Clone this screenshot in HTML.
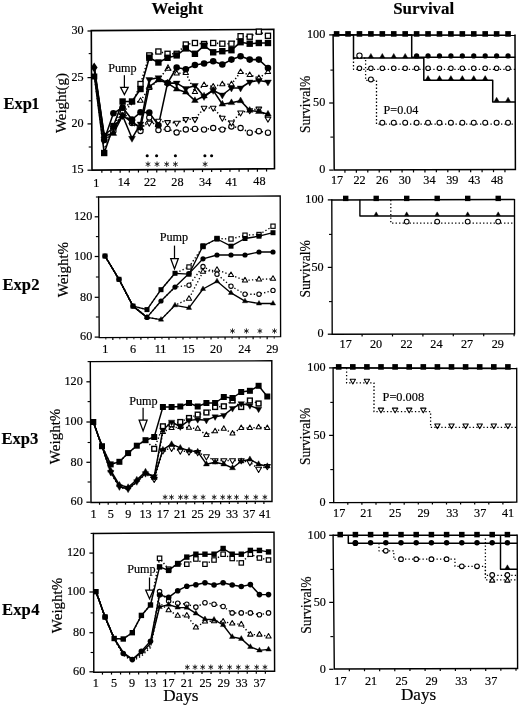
<!DOCTYPE html>
<html><head><meta charset="utf-8"><title>Figure</title>
<style>
html,body{margin:0;padding:0;background:#fff;}
body{width:520px;height:706px;overflow:hidden;font-family:"Liberation Serif", serif;}
svg{display:block;will-change:transform;}
</style></head><body>
<svg width="520" height="706" viewBox="0 0 520 706" stroke="#000" fill="#000" font-family='"Liberation Serif", serif'>
<rect x="0" y="0" width="520" height="706" fill="#fff" stroke="none"/>
<text x="177.3" y="13.9" font-size="16.9" text-anchor="middle" font-weight="bold" stroke="#000" stroke-width="0.15">Weight</text>
<text x="423.7" y="13.6" font-size="16.9" text-anchor="middle" font-weight="bold" stroke="#000" stroke-width="0.15">Survival</text>
<text x="3.4" y="108.7" font-size="16.6" font-weight="bold" stroke="#000" stroke-width="0.15">Exp</text>
<text x="39.6" y="108.7" font-size="16.6" text-anchor="end" font-weight="bold" stroke="#000" stroke-width="0.15">1</text>
<text x="2.4" y="289.7" font-size="16.6" font-weight="bold" stroke="#000" stroke-width="0.15">Exp</text>
<text x="39.6" y="289.7" font-size="16.6" text-anchor="end" font-weight="bold" stroke="#000" stroke-width="0.15">2</text>
<text x="1.4" y="444.2" font-size="16.6" font-weight="bold" stroke="#000" stroke-width="0.15">Exp</text>
<text x="38.3" y="444.2" font-size="16.6" text-anchor="end" font-weight="bold" stroke="#000" stroke-width="0.15">3</text>
<text x="2.1" y="614.7" font-size="16.6" font-weight="bold" stroke="#000" stroke-width="0.15">Exp</text>
<text x="39.6" y="614.7" font-size="16.6" text-anchor="end" font-weight="bold" stroke="#000" stroke-width="0.15">4</text>
<path d="M91.3 30.6 L92 170.1 L274.5 168.7 L273.8 29.4 Z" fill="none" stroke-width="1.6" stroke-linejoin="miter" stroke-linecap="square"/>
<line x1="87.5" y1="31" x2="91.7" y2="31" stroke-width="1.25"/>
<text x="83.6" y="34.25" font-size="12.2" text-anchor="end" stroke="#000" stroke-width="0.18">30</text>
<line x1="87.5" y1="77.6" x2="91.7" y2="77.6" stroke-width="1.25"/>
<text x="83.6" y="80.85" font-size="12.2" text-anchor="end" stroke="#000" stroke-width="0.18">25</text>
<line x1="87.5" y1="123.9" x2="91.7" y2="123.9" stroke-width="1.25"/>
<text x="83.6" y="127.15" font-size="12.2" text-anchor="end" stroke="#000" stroke-width="0.18">20</text>
<line x1="87.5" y1="170.2" x2="91.7" y2="170.2" stroke-width="1.25"/>
<text x="83.6" y="173.45" font-size="12.2" text-anchor="end" stroke="#000" stroke-width="0.18">15</text>
<line x1="88.7" y1="53.6" x2="91.7" y2="53.6" stroke-width="1.12"/>
<line x1="88.7" y1="100.8" x2="91.7" y2="100.8" stroke-width="1.12"/>
<line x1="88.7" y1="147" x2="91.7" y2="147" stroke-width="1.12"/>
<line x1="101.85" y1="170.02" x2="101.85" y2="172.82" stroke-width="1.2"/>
<line x1="111" y1="169.95" x2="111" y2="172.75" stroke-width="1.2"/>
<line x1="120.15" y1="169.88" x2="120.15" y2="172.68" stroke-width="1.2"/>
<line x1="129.3" y1="169.81" x2="129.3" y2="172.61" stroke-width="1.2"/>
<line x1="138.45" y1="169.74" x2="138.45" y2="172.54" stroke-width="1.2"/>
<line x1="147.6" y1="169.67" x2="147.6" y2="172.47" stroke-width="1.2"/>
<line x1="156.75" y1="169.6" x2="156.75" y2="172.4" stroke-width="1.2"/>
<line x1="165.9" y1="169.53" x2="165.9" y2="172.33" stroke-width="1.2"/>
<line x1="175.05" y1="169.46" x2="175.05" y2="172.26" stroke-width="1.2"/>
<line x1="184.2" y1="169.39" x2="184.2" y2="172.19" stroke-width="1.2"/>
<line x1="193.35" y1="169.32" x2="193.35" y2="172.12" stroke-width="1.2"/>
<line x1="202.5" y1="169.25" x2="202.5" y2="172.05" stroke-width="1.2"/>
<line x1="211.65" y1="169.18" x2="211.65" y2="171.98" stroke-width="1.2"/>
<line x1="220.8" y1="169.11" x2="220.8" y2="171.91" stroke-width="1.2"/>
<line x1="229.95" y1="169.04" x2="229.95" y2="171.84" stroke-width="1.2"/>
<line x1="239.1" y1="168.97" x2="239.1" y2="171.77" stroke-width="1.2"/>
<line x1="248.25" y1="168.9" x2="248.25" y2="171.7" stroke-width="1.2"/>
<line x1="257.4" y1="168.83" x2="257.4" y2="171.63" stroke-width="1.2"/>
<line x1="266.55" y1="168.76" x2="266.55" y2="171.56" stroke-width="1.2"/>
<text x="96.2" y="186.55" font-size="12.2" text-anchor="middle" stroke="#000" stroke-width="0.18">1</text>
<text x="123.8" y="186.36" font-size="12.2" text-anchor="middle" stroke="#000" stroke-width="0.18">14</text>
<text x="150" y="186.19" font-size="12.2" text-anchor="middle" stroke="#000" stroke-width="0.18">22</text>
<text x="177.4" y="186" font-size="12.2" text-anchor="middle" stroke="#000" stroke-width="0.18">28</text>
<text x="205.2" y="185.82" font-size="12.2" text-anchor="middle" stroke="#000" stroke-width="0.18">34</text>
<text x="231.6" y="185.64" font-size="12.2" text-anchor="middle" stroke="#000" stroke-width="0.18">41</text>
<text x="259.4" y="185.45" font-size="12.2" text-anchor="middle" stroke="#000" stroke-width="0.18">48</text>
<text x="66.2" y="103" font-size="14.9" text-anchor="middle" transform="rotate(-90 66.2 103)" stroke="#000" stroke-width="0.18">Weight(g)</text>
<text x="108.2" y="71.6" font-size="12.2" stroke="#000" stroke-width="0.18">Pump</text>
<line x1="124.4" y1="75.2" x2="124.4" y2="87.3" stroke-width="1.25"/>
<polygon fill="#fff" stroke-width="1.25" stroke-linejoin="miter" points="120.6,87.3 128.2,87.3 124.4,94.6"/>
<circle cx="147.2" cy="155.8" r="1.55" stroke="none"/>
<circle cx="156.6" cy="155.8" r="1.55" stroke="none"/>
<circle cx="175.4" cy="155.8" r="1.55" stroke="none"/>
<circle cx="204.9" cy="155.8" r="1.55" stroke="none"/>
<circle cx="211.6" cy="155.8" r="1.55" stroke="none"/>
<path d="M148 164.2L148 161.9M148 164.2L146.01 163.05M148 164.2L146.01 165.35M148 164.2L148 166.5M148 164.2L149.99 165.35M148 164.2L149.99 163.05" stroke="#222" stroke-width="0.95" fill="none" stroke-linecap="round"/>
<path d="M157 164.2L157 161.9M157 164.2L155.01 163.05M157 164.2L155.01 165.35M157 164.2L157 166.5M157 164.2L158.99 165.35M157 164.2L158.99 163.05" stroke="#222" stroke-width="0.95" fill="none" stroke-linecap="round"/>
<path d="M166.7 164.2L166.7 161.9M166.7 164.2L164.71 163.05M166.7 164.2L164.71 165.35M166.7 164.2L166.7 166.5M166.7 164.2L168.69 165.35M166.7 164.2L168.69 163.05" stroke="#222" stroke-width="0.95" fill="none" stroke-linecap="round"/>
<path d="M175.4 164.2L175.4 161.9M175.4 164.2L173.41 163.05M175.4 164.2L173.41 165.35M175.4 164.2L175.4 166.5M175.4 164.2L177.39 165.35M175.4 164.2L177.39 163.05" stroke="#222" stroke-width="0.95" fill="none" stroke-linecap="round"/>
<path d="M205.1 164.2L205.1 161.9M205.1 164.2L203.11 163.05M205.1 164.2L203.11 165.35M205.1 164.2L205.1 166.5M205.1 164.2L207.09 165.35M205.1 164.2L207.09 163.05" stroke="#222" stroke-width="0.95" fill="none" stroke-linecap="round"/>
<polyline fill="none" stroke-linejoin="round" stroke-width="1.55" stroke-dasharray="1.3,2.2" points="94.5,75 104.2,142 113.4,131 122.6,113 132,123 140.5,131 149.28,117.5 158.41,130.1 167.54,128.9 176.67,132.5 185.8,129.5 194.93,128.9 204.06,129.6 213.19,128 222.32,129.6 231.45,126.5 240.58,128 249.71,132.7 258.84,131.2 267.97,132.7"/>
<polyline fill="none" stroke-linejoin="round" stroke-width="1.55" stroke-dasharray="1.3,2.2" points="94.5,74 104.2,140 113.4,130 122.6,112 132,122 140.5,127 149.28,122.9 158.41,121 167.54,122.3 176.67,122.9 185.8,119.3 194.93,119.3 204.06,108 213.19,108 222.32,118 231.45,122.7 240.58,112.7 249.71,110.4 258.84,108.8 267.97,118.8"/>
<polyline fill="none" stroke-linejoin="round" stroke-width="1.55" stroke-dasharray="1.3,2.2" points="94.5,70 104.2,138 113.4,130 122.6,112 132,104 140.5,100.8 149.28,88 158.41,80 167.54,68 176.67,73.5 185.8,72.9 194.93,92 204.06,85 213.19,86.5 222.32,84.2 231.45,84.2 240.58,72 249.71,75 258.84,78 267.97,72"/>
<polyline fill="none" stroke-linejoin="round" stroke-width="1.55" stroke-dasharray="1.3,2.2" points="94.5,77 104.2,150 113.4,128 122.6,106 132,104 140.5,84 149.28,55.4 158.41,51.5 167.54,53.8 176.67,53.8 185.8,44.5 194.93,43 204.06,44 213.19,43 222.32,43.7 231.45,43.7 240.58,36.2 249.71,36.7 258.84,31.7 267.97,35.8"/>
<polyline fill="none" stroke-linejoin="round" stroke-width="1.55" points="94.5,68 104.2,136 113.4,133.5 122.6,115.7 132,122 140.5,128 149.28,86.7 158.41,80 167.54,83.1 176.67,89.2 185.8,92.2 194.93,100.6 204.06,96 213.19,90.4 222.32,104.2 231.45,102.7 240.58,100.8 249.71,110.4 258.84,111.6 267.97,114.2"/>
<polyline fill="none" stroke-linejoin="round" stroke-width="1.55" points="94.5,70 104.2,135 113.4,128 122.6,115.7 132,138.3 140.5,124 149.28,79.5 158.41,77.7 167.54,83.1 176.67,83.1 185.8,88.6 194.93,85.5 204.06,96.5 213.19,90.4 222.32,95 231.45,88 240.58,88 249.71,82 258.84,80.4 267.97,82"/>
<polyline fill="none" stroke-linejoin="round" stroke-width="1.55" points="94.5,72 104.2,140 113.4,113.3 122.6,107.5 132,119.5 140.5,112.3 149.28,112.6 158.41,125.3 167.54,83.1 176.67,67.5 185.8,69.3 194.93,65 204.06,63.5 213.19,61.2 222.32,64.5 231.45,59.6 240.58,56.2 249.71,59.6 258.84,59.6 267.97,68"/>
<polyline fill="none" stroke-linejoin="round" stroke-width="1.55" points="94.5,77 104.2,153 113.4,126 122.6,101.5 132,101.5 140.5,89 149.28,57.7 158.41,62.5 167.54,57.8 176.67,55.4 185.8,48.4 194.93,53.8 204.06,45.7 213.19,52.3 222.32,51.2 231.45,50.2 240.58,42.2 249.71,43.7 258.84,43 267.97,43"/>
<circle cx="113.4" cy="131" r="2.65" fill="#fff" stroke-width="1.1"/>
<circle cx="122.6" cy="113" r="2.65" fill="#fff" stroke-width="1.1"/>
<circle cx="132" cy="123" r="2.65" fill="#fff" stroke-width="1.1"/>
<circle cx="140.5" cy="131" r="2.65" fill="#fff" stroke-width="1.1"/>
<circle cx="149.28" cy="117.5" r="2.65" fill="#fff" stroke-width="1.1"/>
<circle cx="158.41" cy="130.1" r="2.65" fill="#fff" stroke-width="1.1"/>
<circle cx="167.54" cy="128.9" r="2.65" fill="#fff" stroke-width="1.1"/>
<circle cx="176.67" cy="132.5" r="2.65" fill="#fff" stroke-width="1.1"/>
<circle cx="185.8" cy="129.5" r="2.65" fill="#fff" stroke-width="1.1"/>
<circle cx="194.93" cy="128.9" r="2.65" fill="#fff" stroke-width="1.1"/>
<circle cx="204.06" cy="129.6" r="2.65" fill="#fff" stroke-width="1.1"/>
<circle cx="213.19" cy="128" r="2.65" fill="#fff" stroke-width="1.1"/>
<circle cx="222.32" cy="129.6" r="2.65" fill="#fff" stroke-width="1.1"/>
<circle cx="231.45" cy="126.5" r="2.65" fill="#fff" stroke-width="1.1"/>
<circle cx="240.58" cy="128" r="2.65" fill="#fff" stroke-width="1.1"/>
<circle cx="249.71" cy="132.7" r="2.65" fill="#fff" stroke-width="1.1"/>
<circle cx="258.84" cy="131.2" r="2.65" fill="#fff" stroke-width="1.1"/>
<circle cx="267.97" cy="132.7" r="2.65" fill="#fff" stroke-width="1.1"/>
<polygon fill="#fff" stroke-width="1.05" stroke-linejoin="round" points="113.4,133.32 116.26,128.34 110.54,128.34"/>
<polygon fill="#fff" stroke-width="1.05" stroke-linejoin="round" points="122.6,115.32 125.46,110.34 119.74,110.34"/>
<polygon fill="#fff" stroke-width="1.05" stroke-linejoin="round" points="132,125.32 134.86,120.34 129.14,120.34"/>
<polygon fill="#fff" stroke-width="1.05" stroke-linejoin="round" points="140.5,130.32 143.36,125.34 137.64,125.34"/>
<polygon fill="#fff" stroke-width="1.05" stroke-linejoin="round" points="149.28,126.22 152.14,121.24 146.42,121.24"/>
<polygon fill="#fff" stroke-width="1.05" stroke-linejoin="round" points="158.41,124.32 161.27,119.34 155.55,119.34"/>
<polygon fill="#fff" stroke-width="1.05" stroke-linejoin="round" points="167.54,125.62 170.4,120.64 164.68,120.64"/>
<polygon fill="#fff" stroke-width="1.05" stroke-linejoin="round" points="176.67,126.22 179.53,121.24 173.81,121.24"/>
<polygon fill="#fff" stroke-width="1.05" stroke-linejoin="round" points="185.8,122.62 188.66,117.64 182.94,117.64"/>
<polygon fill="#fff" stroke-width="1.05" stroke-linejoin="round" points="194.93,122.62 197.79,117.64 192.07,117.64"/>
<polygon fill="#fff" stroke-width="1.05" stroke-linejoin="round" points="204.06,111.32 206.92,106.34 201.2,106.34"/>
<polygon fill="#fff" stroke-width="1.05" stroke-linejoin="round" points="213.19,111.32 216.05,106.34 210.33,106.34"/>
<polygon fill="#fff" stroke-width="1.05" stroke-linejoin="round" points="222.32,121.32 225.18,116.34 219.46,116.34"/>
<polygon fill="#fff" stroke-width="1.05" stroke-linejoin="round" points="231.45,126.02 234.31,121.04 228.59,121.04"/>
<polygon fill="#fff" stroke-width="1.05" stroke-linejoin="round" points="240.58,116.02 243.44,111.04 237.72,111.04"/>
<polygon fill="#fff" stroke-width="1.05" stroke-linejoin="round" points="249.71,113.72 252.57,108.74 246.85,108.74"/>
<polygon fill="#fff" stroke-width="1.05" stroke-linejoin="round" points="258.84,112.12 261.7,107.14 255.98,107.14"/>
<polygon fill="#fff" stroke-width="1.05" stroke-linejoin="round" points="267.97,122.12 270.83,117.14 265.11,117.14"/>
<polygon fill="#fff" stroke-width="1.05" stroke-linejoin="round" points="140.5,97.74 143.14,102.33 137.86,102.33"/>
<polygon fill="#fff" stroke-width="1.05" stroke-linejoin="round" points="149.28,84.94 151.92,89.53 146.64,89.53"/>
<polygon fill="#fff" stroke-width="1.05" stroke-linejoin="round" points="158.41,76.94 161.05,81.53 155.77,81.53"/>
<polygon fill="#fff" stroke-width="1.05" stroke-linejoin="round" points="176.67,70.44 179.31,75.03 174.03,75.03"/>
<polygon fill="#fff" stroke-width="1.05" stroke-linejoin="round" points="185.8,69.84 188.44,74.43 183.16,74.43"/>
<polygon fill="#fff" stroke-width="1.05" stroke-linejoin="round" points="194.93,88.94 197.57,93.53 192.29,93.53"/>
<polygon fill="#fff" stroke-width="1.05" stroke-linejoin="round" points="204.06,81.94 206.7,86.53 201.42,86.53"/>
<polygon fill="#fff" stroke-width="1.05" stroke-linejoin="round" points="213.19,83.44 215.83,88.03 210.55,88.03"/>
<polygon fill="#fff" stroke-width="1.05" stroke-linejoin="round" points="222.32,81.14 224.96,85.73 219.68,85.73"/>
<polygon fill="#fff" stroke-width="1.05" stroke-linejoin="round" points="231.45,81.14 234.09,85.73 228.81,85.73"/>
<polygon fill="#fff" stroke-width="1.05" stroke-linejoin="round" points="240.58,68.94 243.22,73.53 237.94,73.53"/>
<polygon fill="#fff" stroke-width="1.05" stroke-linejoin="round" points="249.71,71.94 252.35,76.53 247.07,76.53"/>
<polygon fill="#fff" stroke-width="1.05" stroke-linejoin="round" points="258.84,74.94 261.48,79.53 256.2,79.53"/>
<polygon fill="#fff" stroke-width="1.05" stroke-linejoin="round" points="267.97,68.94 270.61,73.53 265.33,73.53"/>
<rect x="137.95" y="81.45" width="5.1" height="5.1" fill="#fff" stroke-width="1.3"/>
<rect x="146.73" y="52.85" width="5.1" height="5.1" fill="#fff" stroke-width="1.3"/>
<rect x="155.86" y="48.95" width="5.1" height="5.1" fill="#fff" stroke-width="1.3"/>
<rect x="164.99" y="51.25" width="5.1" height="5.1" fill="#fff" stroke-width="1.3"/>
<rect x="174.12" y="51.25" width="5.1" height="5.1" fill="#fff" stroke-width="1.3"/>
<rect x="183.25" y="41.95" width="5.1" height="5.1" fill="#fff" stroke-width="1.3"/>
<rect x="192.38" y="40.45" width="5.1" height="5.1" fill="#fff" stroke-width="1.3"/>
<rect x="201.51" y="41.45" width="5.1" height="5.1" fill="#fff" stroke-width="1.3"/>
<rect x="210.64" y="40.45" width="5.1" height="5.1" fill="#fff" stroke-width="1.3"/>
<rect x="219.77" y="41.15" width="5.1" height="5.1" fill="#fff" stroke-width="1.3"/>
<rect x="228.9" y="41.15" width="5.1" height="5.1" fill="#fff" stroke-width="1.3"/>
<rect x="238.03" y="33.65" width="5.1" height="5.1" fill="#fff" stroke-width="1.3"/>
<rect x="247.16" y="34.15" width="5.1" height="5.1" fill="#fff" stroke-width="1.3"/>
<rect x="256.29" y="29.15" width="5.1" height="5.1" fill="#fff" stroke-width="1.3"/>
<rect x="265.42" y="33.25" width="5.1" height="5.1" fill="#fff" stroke-width="1.3"/>
<path d="M165.2,70.2 L168,65 L170.8,70.2 Z M166,69 L169.5,66.5" fill="none" stroke-width="1.1"/>
<polygon fill="#000" stroke="#000" stroke-width="0.4" stroke-linejoin="round" points="104.2,132.17 107.5,137.91 100.9,137.91"/>
<polygon fill="#000" stroke="#000" stroke-width="0.4" stroke-linejoin="round" points="113.4,129.67 116.7,135.41 110.1,135.41"/>
<polygon fill="#000" stroke="#000" stroke-width="0.4" stroke-linejoin="round" points="122.6,111.87 125.9,117.61 119.3,117.61"/>
<polygon fill="#000" stroke="#000" stroke-width="0.4" stroke-linejoin="round" points="132,118.17 135.3,123.91 128.7,123.91"/>
<polygon fill="#000" stroke="#000" stroke-width="0.4" stroke-linejoin="round" points="140.5,124.17 143.8,129.91 137.2,129.91"/>
<polygon fill="#000" stroke="#000" stroke-width="0.4" stroke-linejoin="round" points="149.28,82.87 152.58,88.61 145.98,88.61"/>
<polygon fill="#000" stroke="#000" stroke-width="0.4" stroke-linejoin="round" points="158.41,76.17 161.71,81.91 155.11,81.91"/>
<polygon fill="#000" stroke="#000" stroke-width="0.4" stroke-linejoin="round" points="167.54,79.27 170.84,85.01 164.24,85.01"/>
<polygon fill="#000" stroke="#000" stroke-width="0.4" stroke-linejoin="round" points="176.67,85.37 179.97,91.11 173.37,91.11"/>
<polygon fill="#000" stroke="#000" stroke-width="0.4" stroke-linejoin="round" points="185.8,88.37 189.1,94.11 182.5,94.11"/>
<polygon fill="#000" stroke="#000" stroke-width="0.4" stroke-linejoin="round" points="194.93,96.77 198.23,102.51 191.63,102.51"/>
<polygon fill="#000" stroke="#000" stroke-width="0.4" stroke-linejoin="round" points="204.06,92.17 207.36,97.91 200.76,97.91"/>
<polygon fill="#000" stroke="#000" stroke-width="0.4" stroke-linejoin="round" points="213.19,86.57 216.49,92.31 209.89,92.31"/>
<polygon fill="#000" stroke="#000" stroke-width="0.4" stroke-linejoin="round" points="222.32,100.37 225.62,106.11 219.02,106.11"/>
<polygon fill="#000" stroke="#000" stroke-width="0.4" stroke-linejoin="round" points="231.45,98.87 234.75,104.61 228.15,104.61"/>
<polygon fill="#000" stroke="#000" stroke-width="0.4" stroke-linejoin="round" points="240.58,96.97 243.88,102.71 237.28,102.71"/>
<polygon fill="#000" stroke="#000" stroke-width="0.4" stroke-linejoin="round" points="249.71,106.57 253.01,112.31 246.41,112.31"/>
<polygon fill="#000" stroke="#000" stroke-width="0.4" stroke-linejoin="round" points="258.84,107.77 262.14,113.51 255.54,113.51"/>
<polygon fill="#000" stroke="#000" stroke-width="0.4" stroke-linejoin="round" points="267.97,110.37 271.27,116.11 264.67,116.11"/>
<polygon fill="#000" stroke="#000" stroke-width="0.4" stroke-linejoin="round" points="104.2,138.96 107.61,133.02 100.79,133.02"/>
<polygon fill="#000" stroke="#000" stroke-width="0.4" stroke-linejoin="round" points="113.4,131.96 116.81,126.02 109.99,126.02"/>
<polygon fill="#000" stroke="#000" stroke-width="0.4" stroke-linejoin="round" points="122.6,119.66 126.01,113.72 119.19,113.72"/>
<polygon fill="#000" stroke="#000" stroke-width="0.4" stroke-linejoin="round" points="132,142.26 135.41,136.32 128.59,136.32"/>
<polygon fill="#000" stroke="#000" stroke-width="0.4" stroke-linejoin="round" points="140.5,127.96 143.91,122.02 137.09,122.02"/>
<polygon fill="#000" stroke="#000" stroke-width="0.4" stroke-linejoin="round" points="149.28,83.46 152.69,77.52 145.87,77.52"/>
<polygon fill="#000" stroke="#000" stroke-width="0.4" stroke-linejoin="round" points="158.41,81.66 161.82,75.72 155,75.72"/>
<polygon fill="#000" stroke="#000" stroke-width="0.4" stroke-linejoin="round" points="167.54,87.06 170.95,81.12 164.13,81.12"/>
<polygon fill="#000" stroke="#000" stroke-width="0.4" stroke-linejoin="round" points="176.67,87.06 180.08,81.12 173.26,81.12"/>
<polygon fill="#000" stroke="#000" stroke-width="0.4" stroke-linejoin="round" points="185.8,92.56 189.21,86.62 182.39,86.62"/>
<polygon fill="#000" stroke="#000" stroke-width="0.4" stroke-linejoin="round" points="194.93,89.46 198.34,83.52 191.52,83.52"/>
<polygon fill="#000" stroke="#000" stroke-width="0.4" stroke-linejoin="round" points="204.06,100.46 207.47,94.52 200.65,94.52"/>
<polygon fill="#000" stroke="#000" stroke-width="0.4" stroke-linejoin="round" points="213.19,94.36 216.6,88.42 209.78,88.42"/>
<polygon fill="#000" stroke="#000" stroke-width="0.4" stroke-linejoin="round" points="222.32,98.96 225.73,93.02 218.91,93.02"/>
<polygon fill="#000" stroke="#000" stroke-width="0.4" stroke-linejoin="round" points="231.45,91.96 234.86,86.02 228.04,86.02"/>
<polygon fill="#000" stroke="#000" stroke-width="0.4" stroke-linejoin="round" points="240.58,91.96 243.99,86.02 237.17,86.02"/>
<polygon fill="#000" stroke="#000" stroke-width="0.4" stroke-linejoin="round" points="249.71,85.96 253.12,80.02 246.3,80.02"/>
<polygon fill="#000" stroke="#000" stroke-width="0.4" stroke-linejoin="round" points="258.84,84.36 262.25,78.42 255.43,78.42"/>
<polygon fill="#000" stroke="#000" stroke-width="0.4" stroke-linejoin="round" points="267.97,85.96 271.38,80.02 264.56,80.02"/>
<circle cx="104.2" cy="140" r="3.3" fill="#000" stroke="none"/>
<circle cx="113.4" cy="113.3" r="3.3" fill="#000" stroke="none"/>
<circle cx="122.6" cy="107.5" r="3.3" fill="#000" stroke="none"/>
<circle cx="132" cy="119.5" r="3.3" fill="#000" stroke="none"/>
<circle cx="140.5" cy="112.3" r="3.3" fill="#000" stroke="none"/>
<circle cx="149.28" cy="112.6" r="3.3" fill="#000" stroke="none"/>
<circle cx="158.41" cy="125.3" r="3.3" fill="#000" stroke="none"/>
<circle cx="167.54" cy="83.1" r="3.3" fill="#000" stroke="none"/>
<circle cx="176.67" cy="67.5" r="3.3" fill="#000" stroke="none"/>
<circle cx="185.8" cy="69.3" r="3.3" fill="#000" stroke="none"/>
<circle cx="194.93" cy="65" r="3.3" fill="#000" stroke="none"/>
<circle cx="204.06" cy="63.5" r="3.3" fill="#000" stroke="none"/>
<circle cx="213.19" cy="61.2" r="3.3" fill="#000" stroke="none"/>
<circle cx="222.32" cy="64.5" r="3.3" fill="#000" stroke="none"/>
<circle cx="231.45" cy="59.6" r="3.3" fill="#000" stroke="none"/>
<circle cx="240.58" cy="56.2" r="3.3" fill="#000" stroke="none"/>
<circle cx="249.71" cy="59.6" r="3.3" fill="#000" stroke="none"/>
<circle cx="258.84" cy="59.6" r="3.3" fill="#000" stroke="none"/>
<circle cx="267.97" cy="68" r="3.3" fill="#000" stroke="none"/>
<rect x="101" y="149.8" width="6.4" height="6.4" fill="#000" stroke="none"/>
<rect x="110.2" y="122.8" width="6.4" height="6.4" fill="#000" stroke="none"/>
<rect x="119.4" y="98.3" width="6.4" height="6.4" fill="#000" stroke="none"/>
<rect x="128.8" y="98.3" width="6.4" height="6.4" fill="#000" stroke="none"/>
<rect x="137.3" y="85.8" width="6.4" height="6.4" fill="#000" stroke="none"/>
<rect x="146.08" y="54.5" width="6.4" height="6.4" fill="#000" stroke="none"/>
<rect x="155.21" y="59.3" width="6.4" height="6.4" fill="#000" stroke="none"/>
<rect x="164.34" y="54.6" width="6.4" height="6.4" fill="#000" stroke="none"/>
<rect x="173.47" y="52.2" width="6.4" height="6.4" fill="#000" stroke="none"/>
<rect x="182.6" y="45.2" width="6.4" height="6.4" fill="#000" stroke="none"/>
<rect x="191.73" y="50.6" width="6.4" height="6.4" fill="#000" stroke="none"/>
<rect x="200.86" y="42.5" width="6.4" height="6.4" fill="#000" stroke="none"/>
<rect x="209.99" y="49.1" width="6.4" height="6.4" fill="#000" stroke="none"/>
<rect x="219.12" y="48" width="6.4" height="6.4" fill="#000" stroke="none"/>
<rect x="228.25" y="47" width="6.4" height="6.4" fill="#000" stroke="none"/>
<rect x="237.38" y="39" width="6.4" height="6.4" fill="#000" stroke="none"/>
<rect x="246.51" y="40.5" width="6.4" height="6.4" fill="#000" stroke="none"/>
<rect x="255.64" y="39.8" width="6.4" height="6.4" fill="#000" stroke="none"/>
<rect x="264.77" y="39.8" width="6.4" height="6.4" fill="#000" stroke="none"/>
<polygon points="94.2,62.5 97.6,67.5 94.2,72.5 90.8,67.5" stroke="none"/>
<rect x="91.3" y="73.5" width="6" height="6" fill="#000" stroke="none"/>
<g fill="none">
<path d="M333.1 34.9 L334.2 170.1 L515.4 169.5 L515 35.3" fill="none" stroke-width="1.5" stroke-linejoin="miter" stroke-linecap="square"/>
</g>
<line x1="329.2" y1="34.9" x2="333.4" y2="34.9" stroke-width="1.25"/>
<text x="325.3" y="38.15" font-size="12.2" text-anchor="end" stroke="#000" stroke-width="0.18">100</text>
<line x1="329.2" y1="103" x2="333.4" y2="103" stroke-width="1.25"/>
<text x="325.3" y="106.25" font-size="12.2" text-anchor="end" stroke="#000" stroke-width="0.18">50</text>
<line x1="329.2" y1="170.1" x2="333.4" y2="170.1" stroke-width="1.25"/>
<text x="325.3" y="173.35" font-size="12.2" text-anchor="end" stroke="#000" stroke-width="0.18">0</text>
<line x1="330.4" y1="70.1" x2="333.4" y2="70.1" stroke-width="1.12"/>
<line x1="330.4" y1="137.1" x2="333.4" y2="137.1" stroke-width="1.12"/>
<line x1="344.93" y1="170.06" x2="344.93" y2="172.66" stroke-width="1.2"/>
<line x1="356.36" y1="170.03" x2="356.36" y2="172.63" stroke-width="1.2"/>
<line x1="367.79" y1="169.99" x2="367.79" y2="172.59" stroke-width="1.2"/>
<line x1="379.22" y1="169.95" x2="379.22" y2="172.55" stroke-width="1.2"/>
<line x1="390.65" y1="169.91" x2="390.65" y2="172.51" stroke-width="1.2"/>
<line x1="402.08" y1="169.88" x2="402.08" y2="172.48" stroke-width="1.2"/>
<line x1="413.51" y1="169.84" x2="413.51" y2="172.44" stroke-width="1.2"/>
<line x1="424.94" y1="169.8" x2="424.94" y2="172.4" stroke-width="1.2"/>
<line x1="436.37" y1="169.76" x2="436.37" y2="172.36" stroke-width="1.2"/>
<line x1="447.8" y1="169.72" x2="447.8" y2="172.32" stroke-width="1.2"/>
<line x1="459.23" y1="169.69" x2="459.23" y2="172.29" stroke-width="1.2"/>
<line x1="470.66" y1="169.65" x2="470.66" y2="172.25" stroke-width="1.2"/>
<line x1="482.09" y1="169.61" x2="482.09" y2="172.21" stroke-width="1.2"/>
<line x1="493.52" y1="169.57" x2="493.52" y2="172.17" stroke-width="1.2"/>
<line x1="504.95" y1="169.53" x2="504.95" y2="172.13" stroke-width="1.2"/>
<text x="337" y="184.35" font-size="12.2" text-anchor="middle" stroke="#000" stroke-width="0.18">17</text>
<text x="359.6" y="184.35" font-size="12.2" text-anchor="middle" stroke="#000" stroke-width="0.18">22</text>
<text x="382.2" y="184.35" font-size="12.2" text-anchor="middle" stroke="#000" stroke-width="0.18">26</text>
<text x="404.8" y="184.35" font-size="12.2" text-anchor="middle" stroke="#000" stroke-width="0.18">30</text>
<text x="429.4" y="184.35" font-size="12.2" text-anchor="middle" stroke="#000" stroke-width="0.18">34</text>
<text x="452.3" y="184.35" font-size="12.2" text-anchor="middle" stroke="#000" stroke-width="0.18">39</text>
<text x="474.3" y="184.35" font-size="12.2" text-anchor="middle" stroke="#000" stroke-width="0.18">43</text>
<text x="497" y="184.35" font-size="12.2" text-anchor="middle" stroke="#000" stroke-width="0.18">48</text>
<text x="310.4" y="104.3" font-size="13.6" text-anchor="middle" transform="rotate(-90 310.4 104.3)" stroke="#000" stroke-width="0.18">Survival%</text>
<text x="383.6" y="114.4" font-size="12.1" stroke="#000" stroke-width="0.18">P=0.04</text>
<g fill="none">
<polyline fill="none" stroke-linejoin="round" stroke-width="1.3" stroke-dasharray="1.3,2.2" points="353.5,58.1 365.6,58.1 365.6,80.3 376.5,80.3 376.5,124.1 515.2,124.1"/>
<polyline fill="none" stroke-linejoin="round" stroke-width="1.3" stroke-dasharray="1.3,2.2" points="353.5,58.1 353.5,69.3 515.2,69.3"/>
<polyline fill="none" stroke-linejoin="round" stroke-width="1.5" points="333.2,35 353.5,35 353.5,58.1 423.8,58.1 423.8,80.3 492.7,80.3 492.7,101.9 515.2,101.9"/>
<polyline fill="none" stroke-linejoin="round" stroke-width="1.5" points="405,35 411.7,35 411.7,57.3 515.2,57.3"/>
<polyline fill="none" stroke-linejoin="round" stroke-width="1.6" points="333.2,34.9 515.2,35.3"/>
</g>
<rect x="333.8" y="31.1" width="5.6" height="5.6" fill="#000" stroke="none"/>
<rect x="345.23" y="31.1" width="5.6" height="5.6" fill="#000" stroke="none"/>
<rect x="356.66" y="31.1" width="5.6" height="5.6" fill="#000" stroke="none"/>
<rect x="368.09" y="31.1" width="5.6" height="5.6" fill="#000" stroke="none"/>
<rect x="379.52" y="31.1" width="5.6" height="5.6" fill="#000" stroke="none"/>
<rect x="390.95" y="31.1" width="5.6" height="5.6" fill="#000" stroke="none"/>
<rect x="402.38" y="31.1" width="5.6" height="5.6" fill="#000" stroke="none"/>
<rect x="413.81" y="31.1" width="5.6" height="5.6" fill="#000" stroke="none"/>
<rect x="425.24" y="31.1" width="5.6" height="5.6" fill="#000" stroke="none"/>
<rect x="436.67" y="31.1" width="5.6" height="5.6" fill="#000" stroke="none"/>
<rect x="448.1" y="31.1" width="5.6" height="5.6" fill="#000" stroke="none"/>
<rect x="459.53" y="31.1" width="5.6" height="5.6" fill="#000" stroke="none"/>
<rect x="470.96" y="31.1" width="5.6" height="5.6" fill="#000" stroke="none"/>
<rect x="482.39" y="31.1" width="5.6" height="5.6" fill="#000" stroke="none"/>
<rect x="493.82" y="31.1" width="5.6" height="5.6" fill="#000" stroke="none"/>
<rect x="505.25" y="31.1" width="5.6" height="5.6" fill="#000" stroke="none"/>
<circle cx="416.61" cy="55.9" r="2.65" fill="#000" stroke="none"/>
<circle cx="428.04" cy="55.9" r="2.65" fill="#000" stroke="none"/>
<circle cx="439.47" cy="55.9" r="2.65" fill="#000" stroke="none"/>
<circle cx="450.9" cy="55.9" r="2.65" fill="#000" stroke="none"/>
<circle cx="462.33" cy="55.9" r="2.65" fill="#000" stroke="none"/>
<circle cx="473.76" cy="55.9" r="2.65" fill="#000" stroke="none"/>
<circle cx="485.19" cy="55.9" r="2.65" fill="#000" stroke="none"/>
<circle cx="496.62" cy="55.9" r="2.65" fill="#000" stroke="none"/>
<circle cx="508.05" cy="55.9" r="2.65" fill="#000" stroke="none"/>
<polygon fill="#000" stroke="#000" stroke-width="0.4" stroke-linejoin="round" points="370.89,53.4 373.48,57.9 368.31,57.9"/>
<polygon fill="#000" stroke="#000" stroke-width="0.4" stroke-linejoin="round" points="382.32,53.4 384.91,57.9 379.74,57.9"/>
<polygon fill="#000" stroke="#000" stroke-width="0.4" stroke-linejoin="round" points="393.75,53.4 396.33,57.9 391.17,57.9"/>
<polygon fill="#000" stroke="#000" stroke-width="0.4" stroke-linejoin="round" points="405.18,53.4 407.76,57.9 402.6,57.9"/>
<polygon fill="#000" stroke="#000" stroke-width="0.4" stroke-linejoin="round" points="428.04,75.6 430.62,80.1 425.46,80.1"/>
<polygon fill="#000" stroke="#000" stroke-width="0.4" stroke-linejoin="round" points="439.47,75.6 442.06,80.1 436.89,80.1"/>
<polygon fill="#000" stroke="#000" stroke-width="0.4" stroke-linejoin="round" points="450.9,75.6 453.49,80.1 448.32,80.1"/>
<polygon fill="#000" stroke="#000" stroke-width="0.4" stroke-linejoin="round" points="462.33,75.6 464.92,80.1 459.75,80.1"/>
<polygon fill="#000" stroke="#000" stroke-width="0.4" stroke-linejoin="round" points="473.76,75.6 476.34,80.1 471.18,80.1"/>
<polygon fill="#000" stroke="#000" stroke-width="0.4" stroke-linejoin="round" points="485.19,75.6 487.78,80.1 482.61,80.1"/>
<polygon fill="#000" stroke="#000" stroke-width="0.4" stroke-linejoin="round" points="496.62,97.2 499.2,101.7 494.04,101.7"/>
<polygon fill="#000" stroke="#000" stroke-width="0.4" stroke-linejoin="round" points="508.05,97.2 510.63,101.7 505.47,101.7"/>
<circle cx="359.46" cy="55.6" r="2.65" fill="#fff" stroke-width="1.1"/>
<circle cx="359.46" cy="68.2" r="2.25" fill="#fff" stroke-width="1.1"/>
<circle cx="370.89" cy="68.2" r="2.25" fill="#fff" stroke-width="1.1"/>
<circle cx="382.32" cy="68.2" r="2.25" fill="#fff" stroke-width="1.1"/>
<circle cx="393.75" cy="68.2" r="2.25" fill="#fff" stroke-width="1.1"/>
<circle cx="405.18" cy="68.2" r="2.25" fill="#fff" stroke-width="1.1"/>
<circle cx="416.61" cy="68.2" r="2.25" fill="#fff" stroke-width="1.1"/>
<circle cx="428.04" cy="68.2" r="2.25" fill="#fff" stroke-width="1.1"/>
<circle cx="439.47" cy="68.2" r="2.25" fill="#fff" stroke-width="1.1"/>
<circle cx="450.9" cy="68.2" r="2.25" fill="#fff" stroke-width="1.1"/>
<circle cx="462.33" cy="68.2" r="2.25" fill="#fff" stroke-width="1.1"/>
<circle cx="473.76" cy="68.2" r="2.25" fill="#fff" stroke-width="1.1"/>
<circle cx="485.19" cy="68.2" r="2.25" fill="#fff" stroke-width="1.1"/>
<circle cx="496.62" cy="68.2" r="2.25" fill="#fff" stroke-width="1.1"/>
<circle cx="508.05" cy="68.2" r="2.25" fill="#fff" stroke-width="1.1"/>
<circle cx="370.89" cy="79.4" r="2.45" fill="#fff" stroke-width="1.1"/>
<circle cx="382.32" cy="122.7" r="2.45" fill="#fff" stroke-width="1.1"/>
<circle cx="393.75" cy="122.7" r="2.45" fill="#fff" stroke-width="1.1"/>
<circle cx="405.18" cy="122.7" r="2.45" fill="#fff" stroke-width="1.1"/>
<circle cx="416.61" cy="122.7" r="2.45" fill="#fff" stroke-width="1.1"/>
<circle cx="428.04" cy="122.7" r="2.45" fill="#fff" stroke-width="1.1"/>
<circle cx="439.47" cy="122.7" r="2.45" fill="#fff" stroke-width="1.1"/>
<circle cx="450.9" cy="122.7" r="2.45" fill="#fff" stroke-width="1.1"/>
<circle cx="462.33" cy="122.7" r="2.45" fill="#fff" stroke-width="1.1"/>
<circle cx="473.76" cy="122.7" r="2.45" fill="#fff" stroke-width="1.1"/>
<circle cx="485.19" cy="122.7" r="2.45" fill="#fff" stroke-width="1.1"/>
<circle cx="496.62" cy="122.7" r="2.45" fill="#fff" stroke-width="1.1"/>
<circle cx="508.05" cy="122.7" r="2.45" fill="#fff" stroke-width="1.1"/>
<path d="M98.6 197 L99.2 337.6 L280.6 336.7 L280.2 196 Z" fill="none" stroke-width="1.35" stroke-linejoin="miter" stroke-linecap="square"/>
<line x1="94.7" y1="216.8" x2="98.9" y2="216.8" stroke-width="1.25"/>
<text x="92.3" y="220.05" font-size="12.2" text-anchor="end" stroke="#000" stroke-width="0.18">120</text>
<line x1="94.7" y1="256.5" x2="98.9" y2="256.5" stroke-width="1.25"/>
<text x="92.3" y="259.75" font-size="12.2" text-anchor="end" stroke="#000" stroke-width="0.18">100</text>
<line x1="94.7" y1="297.3" x2="98.9" y2="297.3" stroke-width="1.25"/>
<text x="92.3" y="300.55" font-size="12.2" text-anchor="end" stroke="#000" stroke-width="0.18">80</text>
<line x1="94.7" y1="337.1" x2="98.9" y2="337.1" stroke-width="1.25"/>
<text x="92.3" y="340.35" font-size="12.2" text-anchor="end" stroke="#000" stroke-width="0.18">60</text>
<line x1="95.9" y1="197" x2="98.9" y2="197" stroke-width="1.12"/>
<line x1="95.9" y1="236.6" x2="98.9" y2="236.6" stroke-width="1.12"/>
<line x1="95.9" y1="277" x2="98.9" y2="277" stroke-width="1.12"/>
<line x1="95.9" y1="317" x2="98.9" y2="317" stroke-width="1.12"/>
<line x1="112.83" y1="337.53" x2="112.83" y2="339.93" stroke-width="1.2"/>
<line x1="126.86" y1="337.46" x2="126.86" y2="339.86" stroke-width="1.2"/>
<line x1="140.89" y1="337.39" x2="140.89" y2="339.79" stroke-width="1.2"/>
<line x1="154.92" y1="337.32" x2="154.92" y2="339.72" stroke-width="1.2"/>
<line x1="168.95" y1="337.25" x2="168.95" y2="339.65" stroke-width="1.2"/>
<line x1="182.98" y1="337.18" x2="182.98" y2="339.58" stroke-width="1.2"/>
<line x1="197.01" y1="337.11" x2="197.01" y2="339.51" stroke-width="1.2"/>
<line x1="211.04" y1="337.05" x2="211.04" y2="339.45" stroke-width="1.2"/>
<line x1="225.07" y1="336.98" x2="225.07" y2="339.38" stroke-width="1.2"/>
<line x1="239.1" y1="336.91" x2="239.1" y2="339.31" stroke-width="1.2"/>
<line x1="253.13" y1="336.84" x2="253.13" y2="339.24" stroke-width="1.2"/>
<line x1="267.16" y1="336.77" x2="267.16" y2="339.17" stroke-width="1.2"/>
<line x1="105.83" y1="337.57" x2="105.83" y2="339.47" stroke-width="0.9"/>
<line x1="119.86" y1="337.5" x2="119.86" y2="339.4" stroke-width="0.9"/>
<line x1="133.89" y1="337.43" x2="133.89" y2="339.33" stroke-width="0.9"/>
<line x1="147.92" y1="337.36" x2="147.92" y2="339.26" stroke-width="0.9"/>
<line x1="161.95" y1="337.29" x2="161.95" y2="339.19" stroke-width="0.9"/>
<line x1="175.98" y1="337.22" x2="175.98" y2="339.12" stroke-width="0.9"/>
<line x1="190.01" y1="337.15" x2="190.01" y2="339.05" stroke-width="0.9"/>
<line x1="204.04" y1="337.08" x2="204.04" y2="338.98" stroke-width="0.9"/>
<line x1="218.07" y1="337.01" x2="218.07" y2="338.91" stroke-width="0.9"/>
<line x1="232.1" y1="336.94" x2="232.1" y2="338.84" stroke-width="0.9"/>
<line x1="246.13" y1="336.87" x2="246.13" y2="338.77" stroke-width="0.9"/>
<line x1="260.16" y1="336.8" x2="260.16" y2="338.7" stroke-width="0.9"/>
<line x1="274.19" y1="336.73" x2="274.19" y2="338.63" stroke-width="0.9"/>
<text x="105.4" y="352.55" font-size="12.2" text-anchor="middle" stroke="#000" stroke-width="0.18">1</text>
<text x="133" y="352.55" font-size="12.2" text-anchor="middle" stroke="#000" stroke-width="0.18">6</text>
<text x="160.6" y="352.55" font-size="12.2" text-anchor="middle" stroke="#000" stroke-width="0.18">11</text>
<text x="188.6" y="352.55" font-size="12.2" text-anchor="middle" stroke="#000" stroke-width="0.18">15</text>
<text x="216.2" y="352.55" font-size="12.2" text-anchor="middle" stroke="#000" stroke-width="0.18">20</text>
<text x="244.4" y="352.55" font-size="12.2" text-anchor="middle" stroke="#000" stroke-width="0.18">24</text>
<text x="272.3" y="352.55" font-size="12.2" text-anchor="middle" stroke="#000" stroke-width="0.18">29</text>
<text x="68.2" y="269.6" font-size="15" text-anchor="middle" transform="rotate(-90 68.2 269.6)" stroke="#000" stroke-width="0.18">Weight%</text>
<text x="159.7" y="241.2" font-size="12.2" stroke="#000" stroke-width="0.18">Pump</text>
<line x1="174.5" y1="245.6" x2="174.5" y2="258.5" stroke-width="1.25"/>
<polygon fill="#fff" stroke-width="1.25" stroke-linejoin="miter" points="170.7,258.5 178.3,258.5 174.5,269"/>
<path d="M232.5 331L232.5 328.8M232.5 331L230.59 329.9M232.5 331L230.59 332.1M232.5 331L232.5 333.2M232.5 331L234.41 332.1M232.5 331L234.41 329.9" stroke="#222" stroke-width="0.95" fill="none" stroke-linecap="round"/>
<path d="M246.4 331L246.4 328.8M246.4 331L244.49 329.9M246.4 331L244.49 332.1M246.4 331L246.4 333.2M246.4 331L248.31 332.1M246.4 331L248.31 329.9" stroke="#222" stroke-width="0.95" fill="none" stroke-linecap="round"/>
<path d="M259.9 331L259.9 328.8M259.9 331L257.99 329.9M259.9 331L257.99 332.1M259.9 331L259.9 333.2M259.9 331L261.81 332.1M259.9 331L261.81 329.9" stroke="#222" stroke-width="0.95" fill="none" stroke-linecap="round"/>
<path d="M274.5 331L274.5 328.8M274.5 331L272.59 329.9M274.5 331L272.59 332.1M274.5 331L274.5 333.2M274.5 331L276.41 332.1M274.5 331L276.41 329.9" stroke="#222" stroke-width="0.95" fill="none" stroke-linecap="round"/>
<polyline fill="none" stroke-linejoin="round" stroke-width="1.35" stroke-dasharray="1.3,2.2" points="105,256 119,279.3 133,306.1 147,317.4 161,301 175,287.1 189,285.2 203,266.5 217,274.2 231,286.2 245,294.2 259,294.2 273,290.4"/>
<polyline fill="none" stroke-linejoin="round" stroke-width="1.35" stroke-dasharray="1.3,2.2" points="105,256 119,279.3 133,306.1 147,317.4 161,319.6 175,305.3 189,298.7 203,271.7 217,269.8 231,275 245,280.4 259,279.4 273,278.8"/>
<polyline fill="none" stroke-linejoin="round" stroke-width="1.35" stroke-dasharray="1.3,2.2" points="105,256 119,279.3 133,306.1 147,309.6 161,289.7 175,273.3 189,267 203,246.5 217,238.5 231,239 245,235.2 259,234.5 273,226.2"/>
<polyline fill="none" stroke-linejoin="round" stroke-width="1.35" points="105,256 119,279.3 133,306.1 147,317.4 161,319.6 175,305.3 189,307.9 203,289 217,281.3 231,292.9 245,301.2 259,303.5 273,303.5"/>
<polyline fill="none" stroke-linejoin="round" stroke-width="1.35" points="105,256 119,279.3 133,306.1 147,317.4 161,301 175,287.1 189,273.6 203,258.8 217,255 231,255 245,255 259,252 273,252"/>
<polyline fill="none" stroke-linejoin="round" stroke-width="1.35" points="105,256 119,279.3 133,306.1 147,309.6 161,289.7 175,273.3 189,274.2 203,245.8 217,239 231,246.2 245,238.5 259,236.2 273,232.7"/>
<circle cx="189" cy="285.2" r="2.15" fill="#fff" stroke-width="1.1"/>
<circle cx="203" cy="266.5" r="2.15" fill="#fff" stroke-width="1.1"/>
<circle cx="217" cy="274.2" r="2.15" fill="#fff" stroke-width="1.1"/>
<circle cx="231" cy="286.2" r="2.15" fill="#fff" stroke-width="1.1"/>
<circle cx="245" cy="294.2" r="2.15" fill="#fff" stroke-width="1.1"/>
<circle cx="259" cy="294.2" r="2.15" fill="#fff" stroke-width="1.1"/>
<circle cx="273" cy="290.4" r="2.15" fill="#fff" stroke-width="1.1"/>
<polygon fill="#fff" stroke-width="1.05" stroke-linejoin="round" points="189,295.64 191.64,300.23 186.36,300.23"/>
<polygon fill="#fff" stroke-width="1.05" stroke-linejoin="round" points="203,268.64 205.64,273.23 200.36,273.23"/>
<polygon fill="#fff" stroke-width="1.05" stroke-linejoin="round" points="217,266.74 219.64,271.33 214.36,271.33"/>
<polygon fill="#fff" stroke-width="1.05" stroke-linejoin="round" points="231,271.94 233.64,276.53 228.36,276.53"/>
<polygon fill="#fff" stroke-width="1.05" stroke-linejoin="round" points="245,277.34 247.64,281.93 242.36,281.93"/>
<polygon fill="#fff" stroke-width="1.05" stroke-linejoin="round" points="259,276.34 261.64,280.93 256.36,280.93"/>
<polygon fill="#fff" stroke-width="1.05" stroke-linejoin="round" points="273,275.74 275.64,280.33 270.36,280.33"/>
<rect x="186.88" y="264.88" width="4.25" height="4.25" fill="#fff" stroke-width="1.15"/>
<rect x="200.88" y="244.38" width="4.25" height="4.25" fill="#fff" stroke-width="1.15"/>
<rect x="214.88" y="236.38" width="4.25" height="4.25" fill="#fff" stroke-width="1.15"/>
<rect x="228.88" y="236.88" width="4.25" height="4.25" fill="#fff" stroke-width="1.15"/>
<rect x="242.88" y="233.07" width="4.25" height="4.25" fill="#fff" stroke-width="1.15"/>
<rect x="256.88" y="232.38" width="4.25" height="4.25" fill="#fff" stroke-width="1.15"/>
<rect x="270.88" y="224.07" width="4.25" height="4.25" fill="#fff" stroke-width="1.15"/>
<polygon fill="#000" stroke="#000" stroke-width="0.4" stroke-linejoin="round" points="147,314.34 149.64,318.93 144.36,318.93"/>
<polygon fill="#000" stroke="#000" stroke-width="0.4" stroke-linejoin="round" points="161,316.54 163.64,321.13 158.36,321.13"/>
<polygon fill="#000" stroke="#000" stroke-width="0.4" stroke-linejoin="round" points="175,302.24 177.64,306.83 172.36,306.83"/>
<polygon fill="#000" stroke="#000" stroke-width="0.4" stroke-linejoin="round" points="189,304.84 191.64,309.43 186.36,309.43"/>
<polygon fill="#000" stroke="#000" stroke-width="0.4" stroke-linejoin="round" points="203,285.94 205.64,290.53 200.36,290.53"/>
<polygon fill="#000" stroke="#000" stroke-width="0.4" stroke-linejoin="round" points="217,278.24 219.64,282.83 214.36,282.83"/>
<polygon fill="#000" stroke="#000" stroke-width="0.4" stroke-linejoin="round" points="231,289.84 233.64,294.43 228.36,294.43"/>
<polygon fill="#000" stroke="#000" stroke-width="0.4" stroke-linejoin="round" points="245,298.14 247.64,302.73 242.36,302.73"/>
<polygon fill="#000" stroke="#000" stroke-width="0.4" stroke-linejoin="round" points="259,300.44 261.64,305.03 256.36,305.03"/>
<polygon fill="#000" stroke="#000" stroke-width="0.4" stroke-linejoin="round" points="273,300.44 275.64,305.03 270.36,305.03"/>
<circle cx="105" cy="256" r="2.6" fill="#000" stroke="none"/>
<circle cx="119" cy="279.3" r="2.6" fill="#000" stroke="none"/>
<circle cx="133" cy="306.1" r="2.6" fill="#000" stroke="none"/>
<circle cx="147" cy="317.4" r="2.6" fill="#000" stroke="none"/>
<circle cx="161" cy="301" r="2.6" fill="#000" stroke="none"/>
<circle cx="175" cy="287.1" r="2.6" fill="#000" stroke="none"/>
<circle cx="189" cy="273.6" r="2.6" fill="#000" stroke="none"/>
<circle cx="203" cy="258.8" r="2.6" fill="#000" stroke="none"/>
<circle cx="217" cy="255" r="2.6" fill="#000" stroke="none"/>
<circle cx="231" cy="255" r="2.6" fill="#000" stroke="none"/>
<circle cx="245" cy="255" r="2.6" fill="#000" stroke="none"/>
<circle cx="259" cy="252" r="2.6" fill="#000" stroke="none"/>
<circle cx="273" cy="252" r="2.6" fill="#000" stroke="none"/>
<rect x="102.5" y="253.5" width="5" height="5" fill="#000" stroke="none"/>
<rect x="116.5" y="276.8" width="5" height="5" fill="#000" stroke="none"/>
<rect x="130.5" y="303.6" width="5" height="5" fill="#000" stroke="none"/>
<rect x="144.5" y="307.1" width="5" height="5" fill="#000" stroke="none"/>
<rect x="158.5" y="287.2" width="5" height="5" fill="#000" stroke="none"/>
<rect x="172.5" y="270.8" width="5" height="5" fill="#000" stroke="none"/>
<rect x="186.5" y="271.7" width="5" height="5" fill="#000" stroke="none"/>
<rect x="200.5" y="243.3" width="5" height="5" fill="#000" stroke="none"/>
<rect x="214.5" y="236.5" width="5" height="5" fill="#000" stroke="none"/>
<rect x="228.5" y="243.7" width="5" height="5" fill="#000" stroke="none"/>
<rect x="242.5" y="236" width="5" height="5" fill="#000" stroke="none"/>
<rect x="256.5" y="233.7" width="5" height="5" fill="#000" stroke="none"/>
<rect x="270.5" y="230.2" width="5" height="5" fill="#000" stroke="none"/>
<g fill="none">
<path d="M331.8 199.9 L332.2 334.2 L514.6 333.8 L514.5 199.6" fill="none" stroke-width="1.35" stroke-linejoin="miter" stroke-linecap="square"/>
</g>
<line x1="327.8" y1="199.9" x2="332" y2="199.9" stroke-width="1.25"/>
<text x="323.6" y="203.15" font-size="12.2" text-anchor="end" stroke="#000" stroke-width="0.18">100</text>
<line x1="327.8" y1="267.4" x2="332" y2="267.4" stroke-width="1.25"/>
<text x="323.6" y="270.65" font-size="12.2" text-anchor="end" stroke="#000" stroke-width="0.18">50</text>
<line x1="327.8" y1="334.2" x2="332" y2="334.2" stroke-width="1.25"/>
<text x="323.6" y="337.45" font-size="12.2" text-anchor="end" stroke="#000" stroke-width="0.18">0</text>
<line x1="329" y1="234.4" x2="332" y2="234.4" stroke-width="1.12"/>
<line x1="329" y1="301.6" x2="332" y2="301.6" stroke-width="1.12"/>
<line x1="362.1" y1="334.13" x2="362.1" y2="336.53" stroke-width="1.2"/>
<line x1="392.5" y1="334.07" x2="392.5" y2="336.47" stroke-width="1.2"/>
<line x1="422.9" y1="334" x2="422.9" y2="336.4" stroke-width="1.2"/>
<line x1="453.3" y1="333.93" x2="453.3" y2="336.33" stroke-width="1.2"/>
<line x1="483.7" y1="333.87" x2="483.7" y2="336.27" stroke-width="1.2"/>
<line x1="514.1" y1="333.8" x2="514.1" y2="336.2" stroke-width="1.2"/>
<text x="345.7" y="348.15" font-size="12.2" text-anchor="middle" stroke="#000" stroke-width="0.18">17</text>
<text x="376" y="348.15" font-size="12.2" text-anchor="middle" stroke="#000" stroke-width="0.18">20</text>
<text x="406.5" y="348.15" font-size="12.2" text-anchor="middle" stroke="#000" stroke-width="0.18">22</text>
<text x="436.4" y="348.15" font-size="12.2" text-anchor="middle" stroke="#000" stroke-width="0.18">24</text>
<text x="467" y="348.15" font-size="12.2" text-anchor="middle" stroke="#000" stroke-width="0.18">27</text>
<text x="497.8" y="348.15" font-size="12.2" text-anchor="middle" stroke="#000" stroke-width="0.18">29</text>
<text x="310" y="268.9" font-size="13.6" text-anchor="middle" transform="rotate(-90 310 268.9)" stroke="#000" stroke-width="0.18">Survival%</text>
<g fill="none">
<polyline fill="none" stroke-linejoin="round" stroke-width="1.3" stroke-dasharray="1.3,2.2" points="390.8,200 390.8,223.2 514.5,223.2"/>
<polyline fill="none" stroke-linejoin="round" stroke-width="1.4" points="359.9,199.8 359.9,216 514.5,216"/>
<polyline fill="none" stroke-linejoin="round" stroke-width="1.5" points="331.9,199.9 514.5,199.6"/>
</g>
<rect x="343" y="195.7" width="5.4" height="5.4" fill="#000" stroke="none"/>
<rect x="373.5" y="195.7" width="5.4" height="5.4" fill="#000" stroke="none"/>
<rect x="404" y="195.7" width="5.4" height="5.4" fill="#000" stroke="none"/>
<rect x="434.5" y="195.7" width="5.4" height="5.4" fill="#000" stroke="none"/>
<rect x="465" y="195.7" width="5.4" height="5.4" fill="#000" stroke="none"/>
<rect x="495.5" y="195.7" width="5.4" height="5.4" fill="#000" stroke="none"/>
<polygon fill="#000" stroke="#000" stroke-width="0.4" stroke-linejoin="round" points="376.2,211.85 378.4,215.68 374,215.68"/>
<polygon fill="#000" stroke="#000" stroke-width="0.4" stroke-linejoin="round" points="406.7,211.85 408.9,215.68 404.5,215.68"/>
<polygon fill="#000" stroke="#000" stroke-width="0.4" stroke-linejoin="round" points="437.2,211.85 439.4,215.68 435,215.68"/>
<polygon fill="#000" stroke="#000" stroke-width="0.4" stroke-linejoin="round" points="467.7,211.85 469.9,215.68 465.5,215.68"/>
<polygon fill="#000" stroke="#000" stroke-width="0.4" stroke-linejoin="round" points="498.2,211.85 500.4,215.68 496,215.68"/>
<circle cx="406.7" cy="221.6" r="2.4" fill="#fff" stroke-width="1.1"/>
<circle cx="437.2" cy="221.6" r="2.4" fill="#fff" stroke-width="1.1"/>
<circle cx="467.7" cy="221.6" r="2.4" fill="#fff" stroke-width="1.1"/>
<circle cx="498.2" cy="221.6" r="2.4" fill="#fff" stroke-width="1.1"/>
<path d="M90.3 361.6 L91 502.4 L272 501.5 L271.8 360.8 Z" fill="none" stroke-width="1.45" stroke-linejoin="miter" stroke-linecap="square"/>
<line x1="86.4" y1="381.8" x2="90.6" y2="381.8" stroke-width="1.25"/>
<text x="82.8" y="385.05" font-size="12.2" text-anchor="end" stroke="#000" stroke-width="0.18">120</text>
<line x1="86.4" y1="422" x2="90.6" y2="422" stroke-width="1.25"/>
<text x="82.8" y="425.25" font-size="12.2" text-anchor="end" stroke="#000" stroke-width="0.18">100</text>
<line x1="86.4" y1="462.3" x2="90.6" y2="462.3" stroke-width="1.25"/>
<text x="82.8" y="465.55" font-size="12.2" text-anchor="end" stroke="#000" stroke-width="0.18">80</text>
<line x1="86.4" y1="502.2" x2="90.6" y2="502.2" stroke-width="1.25"/>
<text x="82.8" y="505.45" font-size="12.2" text-anchor="end" stroke="#000" stroke-width="0.18">60</text>
<line x1="87.6" y1="361.6" x2="90.6" y2="361.6" stroke-width="1.12"/>
<line x1="87.6" y1="401.6" x2="90.6" y2="401.6" stroke-width="1.12"/>
<line x1="87.6" y1="442.5" x2="90.6" y2="442.5" stroke-width="1.12"/>
<line x1="87.6" y1="482" x2="90.6" y2="482" stroke-width="1.12"/>
<line x1="99.55" y1="502.36" x2="99.55" y2="504.76" stroke-width="1.2"/>
<line x1="108.2" y1="502.31" x2="108.2" y2="504.71" stroke-width="1.2"/>
<line x1="116.85" y1="502.27" x2="116.85" y2="504.67" stroke-width="1.2"/>
<line x1="125.5" y1="502.23" x2="125.5" y2="504.63" stroke-width="1.2"/>
<line x1="134.15" y1="502.19" x2="134.15" y2="504.59" stroke-width="1.2"/>
<line x1="142.8" y1="502.14" x2="142.8" y2="504.54" stroke-width="1.2"/>
<line x1="151.45" y1="502.1" x2="151.45" y2="504.5" stroke-width="1.2"/>
<line x1="160.1" y1="502.06" x2="160.1" y2="504.46" stroke-width="1.2"/>
<line x1="168.75" y1="502.01" x2="168.75" y2="504.41" stroke-width="1.2"/>
<line x1="177.4" y1="501.97" x2="177.4" y2="504.37" stroke-width="1.2"/>
<line x1="186.05" y1="501.93" x2="186.05" y2="504.33" stroke-width="1.2"/>
<line x1="194.7" y1="501.88" x2="194.7" y2="504.28" stroke-width="1.2"/>
<line x1="203.35" y1="501.84" x2="203.35" y2="504.24" stroke-width="1.2"/>
<line x1="212" y1="501.8" x2="212" y2="504.2" stroke-width="1.2"/>
<line x1="220.65" y1="501.76" x2="220.65" y2="504.16" stroke-width="1.2"/>
<line x1="229.3" y1="501.71" x2="229.3" y2="504.11" stroke-width="1.2"/>
<line x1="237.95" y1="501.67" x2="237.95" y2="504.07" stroke-width="1.2"/>
<line x1="246.6" y1="501.63" x2="246.6" y2="504.03" stroke-width="1.2"/>
<line x1="255.25" y1="501.58" x2="255.25" y2="503.98" stroke-width="1.2"/>
<line x1="263.9" y1="501.54" x2="263.9" y2="503.94" stroke-width="1.2"/>
<text x="93.6" y="517.85" font-size="12.2" text-anchor="middle" stroke="#000" stroke-width="0.18">1</text>
<text x="110.9" y="517.85" font-size="12.2" text-anchor="middle" stroke="#000" stroke-width="0.18">5</text>
<text x="128.2" y="517.85" font-size="12.2" text-anchor="middle" stroke="#000" stroke-width="0.18">9</text>
<text x="145.5" y="517.85" font-size="12.2" text-anchor="middle" stroke="#000" stroke-width="0.18">13</text>
<text x="162.9" y="517.85" font-size="12.2" text-anchor="middle" stroke="#000" stroke-width="0.18">17</text>
<text x="180.2" y="517.85" font-size="12.2" text-anchor="middle" stroke="#000" stroke-width="0.18">21</text>
<text x="197.6" y="517.85" font-size="12.2" text-anchor="middle" stroke="#000" stroke-width="0.18">25</text>
<text x="214.4" y="517.85" font-size="12.2" text-anchor="middle" stroke="#000" stroke-width="0.18">29</text>
<text x="232" y="517.85" font-size="12.2" text-anchor="middle" stroke="#000" stroke-width="0.18">33</text>
<text x="249.2" y="517.85" font-size="12.2" text-anchor="middle" stroke="#000" stroke-width="0.18">37</text>
<text x="265.1" y="517.85" font-size="12.2" text-anchor="middle" stroke="#000" stroke-width="0.18">41</text>
<text x="60.4" y="436.4" font-size="15" text-anchor="middle" transform="rotate(-90 60.4 436.4)" stroke="#000" stroke-width="0.18">Weight%</text>
<text x="129.2" y="404.6" font-size="12.2" stroke="#000" stroke-width="0.18">Pump</text>
<line x1="143.1" y1="407.8" x2="143.1" y2="420" stroke-width="1.25"/>
<polygon fill="#fff" stroke-width="1.25" stroke-linejoin="miter" points="139.1,420 147.1,420 143.1,431"/>
<path d="M165.1 497.2L165.1 495M165.1 497.2L163.19 496.1M165.1 497.2L163.19 498.3M165.1 497.2L165.1 499.4M165.1 497.2L167.01 498.3M165.1 497.2L167.01 496.1" stroke="#222" stroke-width="0.95" fill="none" stroke-linecap="round"/>
<path d="M171.5 497.2L171.5 495M171.5 497.2L169.59 496.1M171.5 497.2L169.59 498.3M171.5 497.2L171.5 499.4M171.5 497.2L173.41 498.3M171.5 497.2L173.41 496.1" stroke="#222" stroke-width="0.95" fill="none" stroke-linecap="round"/>
<path d="M180.5 497.2L180.5 495M180.5 497.2L178.59 496.1M180.5 497.2L178.59 498.3M180.5 497.2L180.5 499.4M180.5 497.2L182.41 498.3M180.5 497.2L182.41 496.1" stroke="#222" stroke-width="0.95" fill="none" stroke-linecap="round"/>
<path d="M186.2 497.2L186.2 495M186.2 497.2L184.29 496.1M186.2 497.2L184.29 498.3M186.2 497.2L186.2 499.4M186.2 497.2L188.11 498.3M186.2 497.2L188.11 496.1" stroke="#222" stroke-width="0.95" fill="none" stroke-linecap="round"/>
<path d="M195 497.2L195 495M195 497.2L193.09 496.1M195 497.2L193.09 498.3M195 497.2L195 499.4M195 497.2L196.91 498.3M195 497.2L196.91 496.1" stroke="#222" stroke-width="0.95" fill="none" stroke-linecap="round"/>
<path d="M203.1 497.2L203.1 495M203.1 497.2L201.19 496.1M203.1 497.2L201.19 498.3M203.1 497.2L203.1 499.4M203.1 497.2L205.01 498.3M203.1 497.2L205.01 496.1" stroke="#222" stroke-width="0.95" fill="none" stroke-linecap="round"/>
<path d="M214.2 497.2L214.2 495M214.2 497.2L212.29 496.1M214.2 497.2L212.29 498.3M214.2 497.2L214.2 499.4M214.2 497.2L216.11 498.3M214.2 497.2L216.11 496.1" stroke="#222" stroke-width="0.95" fill="none" stroke-linecap="round"/>
<path d="M222.7 497.2L222.7 495M222.7 497.2L220.79 496.1M222.7 497.2L220.79 498.3M222.7 497.2L222.7 499.4M222.7 497.2L224.61 498.3M222.7 497.2L224.61 496.1" stroke="#222" stroke-width="0.95" fill="none" stroke-linecap="round"/>
<path d="M229.3 497.2L229.3 495M229.3 497.2L227.39 496.1M229.3 497.2L227.39 498.3M229.3 497.2L229.3 499.4M229.3 497.2L231.21 498.3M229.3 497.2L231.21 496.1" stroke="#222" stroke-width="0.95" fill="none" stroke-linecap="round"/>
<path d="M236.5 497.2L236.5 495M236.5 497.2L234.59 496.1M236.5 497.2L234.59 498.3M236.5 497.2L236.5 499.4M236.5 497.2L238.41 498.3M236.5 497.2L238.41 496.1" stroke="#222" stroke-width="0.95" fill="none" stroke-linecap="round"/>
<path d="M246.6 497.2L246.6 495M246.6 497.2L244.69 496.1M246.6 497.2L244.69 498.3M246.6 497.2L246.6 499.4M246.6 497.2L248.51 498.3M246.6 497.2L248.51 496.1" stroke="#222" stroke-width="0.95" fill="none" stroke-linecap="round"/>
<path d="M255.8 497.2L255.8 495M255.8 497.2L253.89 496.1M255.8 497.2L253.89 498.3M255.8 497.2L255.8 499.4M255.8 497.2L257.71 498.3M255.8 497.2L257.71 496.1" stroke="#222" stroke-width="0.95" fill="none" stroke-linecap="round"/>
<path d="M264.9 497.2L264.9 495M264.9 497.2L262.99 496.1M264.9 497.2L262.99 498.3M264.9 497.2L264.9 499.4M264.9 497.2L266.81 498.3M264.9 497.2L266.81 496.1" stroke="#222" stroke-width="0.95" fill="none" stroke-linecap="round"/>
<polyline fill="none" stroke-linejoin="round" stroke-width="1.45" stroke-dasharray="1.3,2.2" points="93.3,422 102,446.2 110.7,472.8 119.4,487.3 128.1,489.6 136.8,482.2 145.5,474.1 154.2,479.1 162.9,450.6 171.6,448 180.3,450.8 189,451.7 197.7,452.3 206.4,456.5 215.1,460.4 223.8,460.4 232.5,460.4 241.2,460.4 249.9,462.3 258.6,469 267.3,466.2"/>
<polyline fill="none" stroke-linejoin="round" stroke-width="1.45" stroke-dasharray="1.3,2.2" points="93.3,422 102,446.2 110.7,471.6 119.4,486.1 128.1,488.4 136.8,481 145.5,472.9 154.2,477.5 162.9,432 171.6,428 180.3,427 189,427.7 197.7,428.7 206.4,435 215.1,431.2 223.8,428.7 232.5,433.5 241.2,428 249.9,428 258.6,427.3 267.3,428"/>
<polyline fill="none" stroke-linejoin="round" stroke-width="1.45" stroke-dasharray="1.3,2.2" points="93.3,422 102,446.2 110.7,464.4 119.4,461.8 128.1,453.1 136.8,445.7 145.5,440.2 154.2,448.8 162.9,426.3 171.6,424.4 180.3,422 189,418 197.7,414.6 206.4,412.5 215.1,407 223.8,406.3 232.5,400.5 241.2,407 249.9,400.5 258.6,403.5"/>
<polyline fill="none" stroke-linejoin="round" stroke-width="1.45" points="93.3,422 102,446.2 110.7,470.4 119.4,484.9 128.1,487.2 136.8,479.8 145.5,471.7 154.2,477.5 162.9,449.7 171.6,444.2 180.3,447.9 189,450.6 197.7,451.7 206.4,464.2 215.1,462.3 223.8,464.2 232.5,468 241.2,461.3 249.9,459.4 258.6,464.2 267.3,466.2"/>
<polyline fill="none" stroke-linejoin="round" stroke-width="1.45" points="93.3,422 102,446.2 110.7,472.2 119.4,486.7 128.1,489 136.8,481.6 145.5,473.5 154.2,476.5 162.9,430 171.6,422 180.3,426.7 189,420.4 197.7,419.5 206.4,420.2 215.1,416.7 223.8,415.3 232.5,408.4 241.2,403.5 249.9,405.6 258.6,409"/>
<polyline fill="none" stroke-linejoin="round" stroke-width="1.45" points="93.3,422 102,446.2 110.7,464.4 119.4,461.8 128.1,453.1 136.8,445.7 145.5,440.2 154.2,437 162.9,407 171.6,407 180.3,406.5 189,403 197.7,406.5 206.4,403 215.1,403 223.8,397 232.5,398 241.2,392 249.9,390.8 258.6,385.8 267.3,396.5"/>
<polygon fill="#fff" stroke-width="1.05" stroke-linejoin="round" points="154.2,482.55 157.17,477.38 151.23,477.38"/>
<polygon fill="#fff" stroke-width="1.05" stroke-linejoin="round" points="162.9,454.05 165.87,448.88 159.93,448.88"/>
<polygon fill="#fff" stroke-width="1.05" stroke-linejoin="round" points="171.6,451.45 174.57,446.28 168.63,446.28"/>
<polygon fill="#fff" stroke-width="1.05" stroke-linejoin="round" points="180.3,454.25 183.27,449.08 177.33,449.08"/>
<polygon fill="#fff" stroke-width="1.05" stroke-linejoin="round" points="189,455.15 191.97,449.98 186.03,449.98"/>
<polygon fill="#fff" stroke-width="1.05" stroke-linejoin="round" points="197.7,455.75 200.67,450.58 194.73,450.58"/>
<polygon fill="#fff" stroke-width="1.05" stroke-linejoin="round" points="206.4,459.95 209.37,454.78 203.43,454.78"/>
<polygon fill="#fff" stroke-width="1.05" stroke-linejoin="round" points="215.1,463.85 218.07,458.68 212.13,458.68"/>
<polygon fill="#fff" stroke-width="1.05" stroke-linejoin="round" points="223.8,463.85 226.77,458.68 220.83,458.68"/>
<polygon fill="#fff" stroke-width="1.05" stroke-linejoin="round" points="232.5,463.85 235.47,458.68 229.53,458.68"/>
<polygon fill="#fff" stroke-width="1.05" stroke-linejoin="round" points="241.2,463.85 244.17,458.68 238.23,458.68"/>
<polygon fill="#fff" stroke-width="1.05" stroke-linejoin="round" points="249.9,465.75 252.87,460.58 246.93,460.58"/>
<polygon fill="#fff" stroke-width="1.05" stroke-linejoin="round" points="258.6,472.45 261.57,467.28 255.63,467.28"/>
<polygon fill="#fff" stroke-width="1.05" stroke-linejoin="round" points="267.3,469.65 270.27,464.48 264.33,464.48"/>
<polygon fill="#fff" stroke-width="1.05" stroke-linejoin="round" points="154.2,474.57 156.73,478.97 151.67,478.97"/>
<polygon fill="#fff" stroke-width="1.05" stroke-linejoin="round" points="162.9,429.07 165.43,433.47 160.37,433.47"/>
<polygon fill="#fff" stroke-width="1.05" stroke-linejoin="round" points="171.6,425.07 174.13,429.47 169.07,429.47"/>
<polygon fill="#fff" stroke-width="1.05" stroke-linejoin="round" points="180.3,424.07 182.83,428.47 177.77,428.47"/>
<polygon fill="#fff" stroke-width="1.05" stroke-linejoin="round" points="189,424.77 191.53,429.17 186.47,429.17"/>
<polygon fill="#fff" stroke-width="1.05" stroke-linejoin="round" points="197.7,425.77 200.23,430.17 195.17,430.17"/>
<polygon fill="#fff" stroke-width="1.05" stroke-linejoin="round" points="206.4,432.07 208.93,436.47 203.87,436.47"/>
<polygon fill="#fff" stroke-width="1.05" stroke-linejoin="round" points="215.1,428.27 217.63,432.67 212.57,432.67"/>
<polygon fill="#fff" stroke-width="1.05" stroke-linejoin="round" points="223.8,425.77 226.33,430.17 221.27,430.17"/>
<polygon fill="#fff" stroke-width="1.05" stroke-linejoin="round" points="232.5,430.57 235.03,434.97 229.97,434.97"/>
<polygon fill="#fff" stroke-width="1.05" stroke-linejoin="round" points="241.2,425.07 243.73,429.47 238.67,429.47"/>
<polygon fill="#fff" stroke-width="1.05" stroke-linejoin="round" points="249.9,425.07 252.43,429.47 247.37,429.47"/>
<polygon fill="#fff" stroke-width="1.05" stroke-linejoin="round" points="258.6,424.37 261.13,428.77 256.07,428.77"/>
<polygon fill="#fff" stroke-width="1.05" stroke-linejoin="round" points="267.3,425.07 269.83,429.47 264.77,429.47"/>
<rect x="151.8" y="446.4" width="4.8" height="4.8" fill="#fff" stroke-width="1.4"/>
<rect x="160.5" y="423.9" width="4.8" height="4.8" fill="#fff" stroke-width="1.4"/>
<rect x="169.2" y="422" width="4.8" height="4.8" fill="#fff" stroke-width="1.4"/>
<rect x="177.9" y="419.6" width="4.8" height="4.8" fill="#fff" stroke-width="1.4"/>
<rect x="186.6" y="415.6" width="4.8" height="4.8" fill="#fff" stroke-width="1.4"/>
<rect x="195.3" y="412.2" width="4.8" height="4.8" fill="#fff" stroke-width="1.4"/>
<rect x="204" y="410.1" width="4.8" height="4.8" fill="#fff" stroke-width="1.4"/>
<rect x="212.7" y="404.6" width="4.8" height="4.8" fill="#fff" stroke-width="1.4"/>
<rect x="221.4" y="403.9" width="4.8" height="4.8" fill="#fff" stroke-width="1.4"/>
<rect x="230.1" y="398.1" width="4.8" height="4.8" fill="#fff" stroke-width="1.4"/>
<rect x="238.8" y="404.6" width="4.8" height="4.8" fill="#fff" stroke-width="1.4"/>
<rect x="247.5" y="398.1" width="4.8" height="4.8" fill="#fff" stroke-width="1.4"/>
<rect x="256.2" y="401.1" width="4.8" height="4.8" fill="#fff" stroke-width="1.4"/>
<polygon fill="#000" stroke="#000" stroke-width="0.4" stroke-linejoin="round" points="110.7,466.95 113.67,472.12 107.73,472.12"/>
<polygon fill="#000" stroke="#000" stroke-width="0.4" stroke-linejoin="round" points="119.4,481.45 122.37,486.62 116.43,486.62"/>
<polygon fill="#000" stroke="#000" stroke-width="0.4" stroke-linejoin="round" points="128.1,483.75 131.07,488.92 125.13,488.92"/>
<polygon fill="#000" stroke="#000" stroke-width="0.4" stroke-linejoin="round" points="136.8,476.35 139.77,481.52 133.83,481.52"/>
<polygon fill="#000" stroke="#000" stroke-width="0.4" stroke-linejoin="round" points="145.5,468.25 148.47,473.42 142.53,473.42"/>
<polygon fill="#000" stroke="#000" stroke-width="0.4" stroke-linejoin="round" points="154.2,474.05 157.17,479.22 151.23,479.22"/>
<polygon fill="#000" stroke="#000" stroke-width="0.4" stroke-linejoin="round" points="162.9,446.25 165.87,451.42 159.93,451.42"/>
<polygon fill="#000" stroke="#000" stroke-width="0.4" stroke-linejoin="round" points="171.6,440.75 174.57,445.92 168.63,445.92"/>
<polygon fill="#000" stroke="#000" stroke-width="0.4" stroke-linejoin="round" points="180.3,444.45 183.27,449.62 177.33,449.62"/>
<polygon fill="#000" stroke="#000" stroke-width="0.4" stroke-linejoin="round" points="189,447.15 191.97,452.32 186.03,452.32"/>
<polygon fill="#000" stroke="#000" stroke-width="0.4" stroke-linejoin="round" points="197.7,448.25 200.67,453.42 194.73,453.42"/>
<polygon fill="#000" stroke="#000" stroke-width="0.4" stroke-linejoin="round" points="206.4,460.75 209.37,465.92 203.43,465.92"/>
<polygon fill="#000" stroke="#000" stroke-width="0.4" stroke-linejoin="round" points="215.1,458.85 218.07,464.02 212.13,464.02"/>
<polygon fill="#000" stroke="#000" stroke-width="0.4" stroke-linejoin="round" points="223.8,460.75 226.77,465.92 220.83,465.92"/>
<polygon fill="#000" stroke="#000" stroke-width="0.4" stroke-linejoin="round" points="232.5,464.55 235.47,469.72 229.53,469.72"/>
<polygon fill="#000" stroke="#000" stroke-width="0.4" stroke-linejoin="round" points="241.2,457.85 244.17,463.02 238.23,463.02"/>
<polygon fill="#000" stroke="#000" stroke-width="0.4" stroke-linejoin="round" points="249.9,455.95 252.87,461.12 246.93,461.12"/>
<polygon fill="#000" stroke="#000" stroke-width="0.4" stroke-linejoin="round" points="258.6,460.75 261.57,465.92 255.63,465.92"/>
<polygon fill="#000" stroke="#000" stroke-width="0.4" stroke-linejoin="round" points="267.3,462.75 270.27,467.92 264.33,467.92"/>
<polygon fill="#000" stroke="#000" stroke-width="0.4" stroke-linejoin="round" points="110.7,475.9 113.89,470.35 107.51,470.35"/>
<polygon fill="#000" stroke="#000" stroke-width="0.4" stroke-linejoin="round" points="119.4,490.4 122.59,484.85 116.21,484.85"/>
<polygon fill="#000" stroke="#000" stroke-width="0.4" stroke-linejoin="round" points="128.1,492.7 131.29,487.15 124.91,487.15"/>
<polygon fill="#000" stroke="#000" stroke-width="0.4" stroke-linejoin="round" points="136.8,485.3 139.99,479.75 133.61,479.75"/>
<polygon fill="#000" stroke="#000" stroke-width="0.4" stroke-linejoin="round" points="145.5,477.2 148.69,471.65 142.31,471.65"/>
<polygon fill="#000" stroke="#000" stroke-width="0.4" stroke-linejoin="round" points="154.2,480.2 157.39,474.65 151.01,474.65"/>
<polygon fill="#000" stroke="#000" stroke-width="0.4" stroke-linejoin="round" points="162.9,433.7 166.09,428.15 159.71,428.15"/>
<polygon fill="#000" stroke="#000" stroke-width="0.4" stroke-linejoin="round" points="171.6,425.7 174.79,420.15 168.41,420.15"/>
<polygon fill="#000" stroke="#000" stroke-width="0.4" stroke-linejoin="round" points="180.3,430.4 183.49,424.85 177.11,424.85"/>
<polygon fill="#000" stroke="#000" stroke-width="0.4" stroke-linejoin="round" points="189,424.1 192.19,418.55 185.81,418.55"/>
<polygon fill="#000" stroke="#000" stroke-width="0.4" stroke-linejoin="round" points="197.7,423.2 200.89,417.65 194.51,417.65"/>
<polygon fill="#000" stroke="#000" stroke-width="0.4" stroke-linejoin="round" points="206.4,423.9 209.59,418.35 203.21,418.35"/>
<polygon fill="#000" stroke="#000" stroke-width="0.4" stroke-linejoin="round" points="215.1,420.4 218.29,414.85 211.91,414.85"/>
<polygon fill="#000" stroke="#000" stroke-width="0.4" stroke-linejoin="round" points="223.8,419 226.99,413.45 220.61,413.45"/>
<polygon fill="#000" stroke="#000" stroke-width="0.4" stroke-linejoin="round" points="232.5,412.1 235.69,406.55 229.31,406.55"/>
<polygon fill="#000" stroke="#000" stroke-width="0.4" stroke-linejoin="round" points="241.2,407.2 244.39,401.65 238.01,401.65"/>
<polygon fill="#000" stroke="#000" stroke-width="0.4" stroke-linejoin="round" points="249.9,409.3 253.09,403.75 246.71,403.75"/>
<polygon fill="#000" stroke="#000" stroke-width="0.4" stroke-linejoin="round" points="258.6,412.7 261.79,407.15 255.41,407.15"/>
<rect x="90.3" y="419" width="6" height="6" fill="#000" stroke="none"/>
<rect x="99" y="443.2" width="6" height="6" fill="#000" stroke="none"/>
<rect x="107.7" y="461.4" width="6" height="6" fill="#000" stroke="none"/>
<rect x="116.4" y="458.8" width="6" height="6" fill="#000" stroke="none"/>
<rect x="125.1" y="450.1" width="6" height="6" fill="#000" stroke="none"/>
<rect x="133.8" y="442.7" width="6" height="6" fill="#000" stroke="none"/>
<rect x="142.5" y="437.2" width="6" height="6" fill="#000" stroke="none"/>
<rect x="151.2" y="434" width="6" height="6" fill="#000" stroke="none"/>
<rect x="159.9" y="404" width="6" height="6" fill="#000" stroke="none"/>
<rect x="168.6" y="404" width="6" height="6" fill="#000" stroke="none"/>
<rect x="177.3" y="403.5" width="6" height="6" fill="#000" stroke="none"/>
<rect x="186" y="400" width="6" height="6" fill="#000" stroke="none"/>
<rect x="194.7" y="403.5" width="6" height="6" fill="#000" stroke="none"/>
<rect x="203.4" y="400" width="6" height="6" fill="#000" stroke="none"/>
<rect x="212.1" y="400" width="6" height="6" fill="#000" stroke="none"/>
<rect x="220.8" y="394" width="6" height="6" fill="#000" stroke="none"/>
<rect x="229.5" y="395" width="6" height="6" fill="#000" stroke="none"/>
<rect x="238.2" y="389" width="6" height="6" fill="#000" stroke="none"/>
<rect x="246.9" y="387.8" width="6" height="6" fill="#000" stroke="none"/>
<rect x="255.6" y="382.8" width="6" height="6" fill="#000" stroke="none"/>
<rect x="264.3" y="393.5" width="6" height="6" fill="#000" stroke="none"/>
<g fill="none">
<path d="M333.1 367.9 L333.7 502.6 L516.8 502.2 L516.7 368.4" fill="none" stroke-width="1.35" stroke-linejoin="miter" stroke-linecap="square"/>
</g>
<line x1="329.1" y1="367.9" x2="333.3" y2="367.9" stroke-width="1.25"/>
<text x="325.6" y="371.15" font-size="12.2" text-anchor="end" stroke="#000" stroke-width="0.18">100</text>
<line x1="329.1" y1="435.4" x2="333.3" y2="435.4" stroke-width="1.25"/>
<text x="325.6" y="438.65" font-size="12.2" text-anchor="end" stroke="#000" stroke-width="0.18">50</text>
<line x1="329.1" y1="502.6" x2="333.3" y2="502.6" stroke-width="1.25"/>
<text x="325.6" y="505.85" font-size="12.2" text-anchor="end" stroke="#000" stroke-width="0.18">0</text>
<line x1="330.3" y1="402.4" x2="333.3" y2="402.4" stroke-width="1.12"/>
<line x1="330.3" y1="469.6" x2="333.3" y2="469.6" stroke-width="1.12"/>
<line x1="347.8" y1="502.57" x2="347.8" y2="504.77" stroke-width="1.2"/>
<line x1="361.9" y1="502.54" x2="361.9" y2="504.74" stroke-width="1.2"/>
<line x1="376" y1="502.51" x2="376" y2="504.71" stroke-width="1.2"/>
<line x1="390.1" y1="502.48" x2="390.1" y2="504.68" stroke-width="1.2"/>
<line x1="404.2" y1="502.45" x2="404.2" y2="504.65" stroke-width="1.2"/>
<line x1="418.3" y1="502.42" x2="418.3" y2="504.62" stroke-width="1.2"/>
<line x1="432.4" y1="502.38" x2="432.4" y2="504.58" stroke-width="1.2"/>
<line x1="446.5" y1="502.35" x2="446.5" y2="504.55" stroke-width="1.2"/>
<line x1="460.6" y1="502.32" x2="460.6" y2="504.52" stroke-width="1.2"/>
<line x1="474.7" y1="502.29" x2="474.7" y2="504.49" stroke-width="1.2"/>
<line x1="488.8" y1="502.26" x2="488.8" y2="504.46" stroke-width="1.2"/>
<line x1="502.9" y1="502.23" x2="502.9" y2="504.43" stroke-width="1.2"/>
<text x="339.2" y="516.95" font-size="12.2" text-anchor="middle" stroke="#000" stroke-width="0.18">17</text>
<text x="366.4" y="516.95" font-size="12.2" text-anchor="middle" stroke="#000" stroke-width="0.18">21</text>
<text x="395.2" y="516.95" font-size="12.2" text-anchor="middle" stroke="#000" stroke-width="0.18">25</text>
<text x="423.6" y="516.95" font-size="12.2" text-anchor="middle" stroke="#000" stroke-width="0.18">29</text>
<text x="452.3" y="516.95" font-size="12.2" text-anchor="middle" stroke="#000" stroke-width="0.18">33</text>
<text x="480.2" y="516.95" font-size="12.2" text-anchor="middle" stroke="#000" stroke-width="0.18">37</text>
<text x="508" y="516.95" font-size="12.2" text-anchor="middle" stroke="#000" stroke-width="0.18">41</text>
<text x="310.5" y="436.3" font-size="13.6" text-anchor="middle" transform="rotate(-90 310.5 436.3)" stroke="#000" stroke-width="0.18">Survival%</text>
<text x="382.6" y="400.9" font-size="12.3" stroke="#000" stroke-width="0.18">P=0.008</text>
<g fill="none">
<polyline fill="none" stroke-linejoin="round" stroke-width="1.3" stroke-dasharray="1.3,2.2" points="346.6,368 346.6,382.9 374,382.9 374,411.7 430.6,411.7 430.6,427.3 516.7,427.3"/>
<polyline fill="none" stroke-linejoin="round" stroke-width="1.6" points="333.2,367.9 516.7,368.4"/>
</g>
<rect x="335.9" y="364.1" width="5.6" height="5.6" fill="#000" stroke="none"/>
<rect x="350" y="364.1" width="5.6" height="5.6" fill="#000" stroke="none"/>
<rect x="364.1" y="364.1" width="5.6" height="5.6" fill="#000" stroke="none"/>
<rect x="378.2" y="364.1" width="5.6" height="5.6" fill="#000" stroke="none"/>
<rect x="392.3" y="364.1" width="5.6" height="5.6" fill="#000" stroke="none"/>
<rect x="406.4" y="364.1" width="5.6" height="5.6" fill="#000" stroke="none"/>
<rect x="420.5" y="364.1" width="5.6" height="5.6" fill="#000" stroke="none"/>
<rect x="434.6" y="364.1" width="5.6" height="5.6" fill="#000" stroke="none"/>
<rect x="448.7" y="364.1" width="5.6" height="5.6" fill="#000" stroke="none"/>
<rect x="462.8" y="364.1" width="5.6" height="5.6" fill="#000" stroke="none"/>
<rect x="476.9" y="364.1" width="5.6" height="5.6" fill="#000" stroke="none"/>
<rect x="491" y="364.1" width="5.6" height="5.6" fill="#000" stroke="none"/>
<rect x="505.1" y="364.1" width="5.6" height="5.6" fill="#000" stroke="none"/>
<polygon fill="#fff" stroke-width="1.05" stroke-linejoin="round" points="352.8,384.03 355.5,379.34 350.11,379.34"/>
<polygon fill="#fff" stroke-width="1.05" stroke-linejoin="round" points="366.9,384.03 369.59,379.34 364.2,379.34"/>
<polygon fill="#fff" stroke-width="1.05" stroke-linejoin="round" points="381,412.83 383.69,408.14 378.31,408.14"/>
<polygon fill="#fff" stroke-width="1.05" stroke-linejoin="round" points="395.1,412.83 397.79,408.14 392.4,408.14"/>
<polygon fill="#fff" stroke-width="1.05" stroke-linejoin="round" points="409.2,412.83 411.89,408.14 406.5,408.14"/>
<polygon fill="#fff" stroke-width="1.05" stroke-linejoin="round" points="423.3,412.83 425.99,408.14 420.6,408.14"/>
<polygon fill="#fff" stroke-width="1.05" stroke-linejoin="round" points="437.4,428.63 440.09,423.94 434.7,423.94"/>
<polygon fill="#fff" stroke-width="1.05" stroke-linejoin="round" points="451.5,428.63 454.19,423.94 448.81,423.94"/>
<polygon fill="#fff" stroke-width="1.05" stroke-linejoin="round" points="465.6,428.63 468.29,423.94 462.9,423.94"/>
<polygon fill="#fff" stroke-width="1.05" stroke-linejoin="round" points="479.7,428.63 482.39,423.94 477,423.94"/>
<polygon fill="#fff" stroke-width="1.05" stroke-linejoin="round" points="493.8,428.63 496.49,423.94 491.1,423.94"/>
<polygon fill="#fff" stroke-width="1.05" stroke-linejoin="round" points="507.9,428.63 510.59,423.94 505.2,423.94"/>
<path d="M93.4 533.4 L93.8 672.3 L274.6 671.2 L274 532.2 Z" fill="none" stroke-width="1.45" stroke-linejoin="miter" stroke-linecap="square"/>
<line x1="89.4" y1="553.1" x2="93.6" y2="553.1" stroke-width="1.25"/>
<text x="85.3" y="556.35" font-size="12.2" text-anchor="end" stroke="#000" stroke-width="0.18">120</text>
<line x1="89.4" y1="592" x2="93.6" y2="592" stroke-width="1.25"/>
<text x="85.3" y="595.25" font-size="12.2" text-anchor="end" stroke="#000" stroke-width="0.18">100</text>
<line x1="89.4" y1="632.7" x2="93.6" y2="632.7" stroke-width="1.25"/>
<text x="85.3" y="635.95" font-size="12.2" text-anchor="end" stroke="#000" stroke-width="0.18">80</text>
<line x1="89.4" y1="671.8" x2="93.6" y2="671.8" stroke-width="1.25"/>
<text x="85.3" y="675.05" font-size="12.2" text-anchor="end" stroke="#000" stroke-width="0.18">60</text>
<line x1="90.6" y1="533.4" x2="93.6" y2="533.4" stroke-width="1.12"/>
<line x1="90.6" y1="572.9" x2="93.6" y2="572.9" stroke-width="1.12"/>
<line x1="90.6" y1="612.9" x2="93.6" y2="612.9" stroke-width="1.12"/>
<line x1="90.6" y1="652.5" x2="93.6" y2="652.5" stroke-width="1.12"/>
<line x1="102.45" y1="672.25" x2="102.45" y2="674.65" stroke-width="1.2"/>
<line x1="111.5" y1="672.19" x2="111.5" y2="674.59" stroke-width="1.2"/>
<line x1="120.55" y1="672.14" x2="120.55" y2="674.54" stroke-width="1.2"/>
<line x1="129.6" y1="672.08" x2="129.6" y2="674.48" stroke-width="1.2"/>
<line x1="138.65" y1="672.03" x2="138.65" y2="674.43" stroke-width="1.2"/>
<line x1="147.7" y1="671.97" x2="147.7" y2="674.37" stroke-width="1.2"/>
<line x1="156.75" y1="671.92" x2="156.75" y2="674.32" stroke-width="1.2"/>
<line x1="165.8" y1="671.86" x2="165.8" y2="674.26" stroke-width="1.2"/>
<line x1="174.85" y1="671.81" x2="174.85" y2="674.21" stroke-width="1.2"/>
<line x1="183.9" y1="671.75" x2="183.9" y2="674.15" stroke-width="1.2"/>
<line x1="192.95" y1="671.7" x2="192.95" y2="674.1" stroke-width="1.2"/>
<line x1="202" y1="671.64" x2="202" y2="674.04" stroke-width="1.2"/>
<line x1="211.05" y1="671.59" x2="211.05" y2="673.99" stroke-width="1.2"/>
<line x1="220.1" y1="671.53" x2="220.1" y2="673.93" stroke-width="1.2"/>
<line x1="229.15" y1="671.48" x2="229.15" y2="673.88" stroke-width="1.2"/>
<line x1="238.2" y1="671.42" x2="238.2" y2="673.82" stroke-width="1.2"/>
<line x1="247.25" y1="671.37" x2="247.25" y2="673.77" stroke-width="1.2"/>
<line x1="256.3" y1="671.31" x2="256.3" y2="673.71" stroke-width="1.2"/>
<line x1="265.35" y1="671.26" x2="265.35" y2="673.66" stroke-width="1.2"/>
<text x="95.7" y="686.75" font-size="12.2" text-anchor="middle" stroke="#000" stroke-width="0.18">1</text>
<text x="114" y="686.75" font-size="12.2" text-anchor="middle" stroke="#000" stroke-width="0.18">5</text>
<text x="132" y="686.75" font-size="12.2" text-anchor="middle" stroke="#000" stroke-width="0.18">9</text>
<text x="150.2" y="686.75" font-size="12.2" text-anchor="middle" stroke="#000" stroke-width="0.18">13</text>
<text x="168.4" y="686.75" font-size="12.2" text-anchor="middle" stroke="#000" stroke-width="0.18">17</text>
<text x="186.9" y="686.75" font-size="12.2" text-anchor="middle" stroke="#000" stroke-width="0.18">21</text>
<text x="205.5" y="686.75" font-size="12.2" text-anchor="middle" stroke="#000" stroke-width="0.18">25</text>
<text x="223.7" y="686.75" font-size="12.2" text-anchor="middle" stroke="#000" stroke-width="0.18">29</text>
<text x="241.5" y="686.75" font-size="12.2" text-anchor="middle" stroke="#000" stroke-width="0.18">33</text>
<text x="259.6" y="686.75" font-size="12.2" text-anchor="middle" stroke="#000" stroke-width="0.18">37</text>
<text x="61.5" y="605.5" font-size="15" text-anchor="middle" transform="rotate(-90 61.5 605.5)" stroke="#000" stroke-width="0.18">Weight%</text>
<text x="180.8" y="701.3" font-size="17.2" text-anchor="middle" stroke="#000" stroke-width="0.18">Days</text>
<text x="127.2" y="572.7" font-size="12.2" stroke="#000" stroke-width="0.18">Pump</text>
<line x1="149.5" y1="577.5" x2="149.5" y2="590" stroke-width="1.25"/>
<polygon fill="#fff" stroke-width="1.25" stroke-linejoin="miter" points="145.7,590 153.3,590 149.5,598.7"/>
<path d="M187.3 667.2L187.3 665M187.3 667.2L185.39 666.1M187.3 667.2L185.39 668.3M187.3 667.2L187.3 669.4M187.3 667.2L189.21 668.3M187.3 667.2L189.21 666.1" stroke="#222" stroke-width="0.95" fill="none" stroke-linecap="round"/>
<path d="M195 667.2L195 665M195 667.2L193.09 666.1M195 667.2L193.09 668.3M195 667.2L195 669.4M195 667.2L196.91 668.3M195 667.2L196.91 666.1" stroke="#222" stroke-width="0.95" fill="none" stroke-linecap="round"/>
<path d="M202.7 667.2L202.7 665M202.7 667.2L200.79 666.1M202.7 667.2L200.79 668.3M202.7 667.2L202.7 669.4M202.7 667.2L204.61 668.3M202.7 667.2L204.61 666.1" stroke="#222" stroke-width="0.95" fill="none" stroke-linecap="round"/>
<path d="M210.8 667.2L210.8 665M210.8 667.2L208.89 666.1M210.8 667.2L208.89 668.3M210.8 667.2L210.8 669.4M210.8 667.2L212.71 668.3M210.8 667.2L212.71 666.1" stroke="#222" stroke-width="0.95" fill="none" stroke-linecap="round"/>
<path d="M220.4 667.2L220.4 665M220.4 667.2L218.49 666.1M220.4 667.2L218.49 668.3M220.4 667.2L220.4 669.4M220.4 667.2L222.31 668.3M220.4 667.2L222.31 666.1" stroke="#222" stroke-width="0.95" fill="none" stroke-linecap="round"/>
<path d="M229.6 667.2L229.6 665M229.6 667.2L227.69 666.1M229.6 667.2L227.69 668.3M229.6 667.2L229.6 669.4M229.6 667.2L231.51 668.3M229.6 667.2L231.51 666.1" stroke="#222" stroke-width="0.95" fill="none" stroke-linecap="round"/>
<path d="M238.3 667.2L238.3 665M238.3 667.2L236.39 666.1M238.3 667.2L236.39 668.3M238.3 667.2L238.3 669.4M238.3 667.2L240.21 668.3M238.3 667.2L240.21 666.1" stroke="#222" stroke-width="0.95" fill="none" stroke-linecap="round"/>
<path d="M247.2 667.2L247.2 665M247.2 667.2L245.29 666.1M247.2 667.2L245.29 668.3M247.2 667.2L247.2 669.4M247.2 667.2L249.11 668.3M247.2 667.2L249.11 666.1" stroke="#222" stroke-width="0.95" fill="none" stroke-linecap="round"/>
<path d="M256.7 667.2L256.7 665M256.7 667.2L254.79 666.1M256.7 667.2L254.79 668.3M256.7 667.2L256.7 669.4M256.7 667.2L258.61 668.3M256.7 667.2L258.61 666.1" stroke="#222" stroke-width="0.95" fill="none" stroke-linecap="round"/>
<path d="M265 667.2L265 665M265 667.2L263.09 666.1M265 667.2L263.09 668.3M265 667.2L265 669.4M265 667.2L266.91 668.3M265 667.2L266.91 666.1" stroke="#222" stroke-width="0.95" fill="none" stroke-linecap="round"/>
<polyline fill="none" stroke-linejoin="round" stroke-width="1.45" stroke-dasharray="1.3,2.2" points="96,591.7 105.08,617 114.16,638.5 123.24,654.5 132.32,660.5 141.4,654.5 150.48,645.5 159.56,591.6 168.64,601 177.72,603.2 186.8,604.2 195.88,607.1 204.96,602.7 214.04,604.2 223.12,606.5 232.2,612.9 241.28,612.9 250.36,612.9 259.44,614.8 268.52,612.9"/>
<polyline fill="none" stroke-linejoin="round" stroke-width="1.45" stroke-dasharray="1.3,2.2" points="96,591.7 105.08,617 114.16,638.5 123.24,655 132.32,661 141.4,656 150.48,647.5 159.56,603 168.64,610.2 177.72,615.7 186.8,615.5 195.88,627.5 204.96,621.5 214.04,621.2 223.12,621.5 232.2,623.5 241.28,624.4 250.36,634.6 259.44,634.6 268.52,636.5"/>
<polyline fill="none" stroke-linejoin="round" stroke-width="1.45" stroke-dasharray="1.3,2.2" points="96,591.7 105.08,617 114.16,638.5 123.24,639 132.32,632.7 141.4,615.4 150.48,605 159.56,558.3 168.64,569.2 177.72,564 186.8,564.2 195.88,559 204.96,564.2 214.04,560 223.12,554.2 232.2,558.5 241.28,562.9 250.36,554.2 259.44,558 268.52,560"/>
<polyline fill="none" stroke-linejoin="round" stroke-width="1.45" points="96,591.7 105.08,617 114.16,638.5 123.24,652.5 132.32,659 141.4,653 150.48,643.5 159.56,607 168.64,604.6 177.72,607.5 186.8,607.6 195.88,613.4 204.96,619.2 214.04,619.6 223.12,625 232.2,636.9 241.28,638.8 250.36,646.9 259.44,650.4 268.52,649.4"/>
<polyline fill="none" stroke-linejoin="round" stroke-width="1.45" points="96,591.7 105.08,617 114.16,638.5 123.24,653.5 132.32,659.6 141.4,651.2 150.48,641.3 159.56,595 168.64,597.4 177.72,590.7 186.8,586.2 195.88,584.7 204.96,582.7 214.04,585 223.12,582.7 232.2,585 241.28,586.5 250.36,584.6 259.44,594.6 268.52,594.6"/>
<polyline fill="none" stroke-linejoin="round" stroke-width="1.45" points="96,591.7 105.08,617 114.16,638.5 123.24,639 132.32,632.7 141.4,615.4 150.48,605 159.56,566.9 168.64,570.4 177.72,563.5 186.8,557.1 195.88,554.2 204.96,554.2 214.04,554.2 223.12,548.5 232.2,554.2 241.28,554.2 250.36,550.4 259.44,550.4 268.52,551.9"/>
<circle cx="159.56" cy="591.6" r="2.25" fill="#fff" stroke-width="1.1"/>
<circle cx="168.64" cy="601" r="2.25" fill="#fff" stroke-width="1.1"/>
<circle cx="177.72" cy="603.2" r="2.25" fill="#fff" stroke-width="1.1"/>
<circle cx="186.8" cy="604.2" r="2.25" fill="#fff" stroke-width="1.1"/>
<circle cx="195.88" cy="607.1" r="2.25" fill="#fff" stroke-width="1.1"/>
<circle cx="204.96" cy="602.7" r="2.25" fill="#fff" stroke-width="1.1"/>
<circle cx="214.04" cy="604.2" r="2.25" fill="#fff" stroke-width="1.1"/>
<circle cx="223.12" cy="606.5" r="2.25" fill="#fff" stroke-width="1.1"/>
<circle cx="232.2" cy="612.9" r="2.25" fill="#fff" stroke-width="1.1"/>
<circle cx="241.28" cy="612.9" r="2.25" fill="#fff" stroke-width="1.1"/>
<circle cx="250.36" cy="612.9" r="2.25" fill="#fff" stroke-width="1.1"/>
<circle cx="259.44" cy="614.8" r="2.25" fill="#fff" stroke-width="1.1"/>
<circle cx="268.52" cy="612.9" r="2.25" fill="#fff" stroke-width="1.1"/>
<polygon fill="#fff" stroke-width="1.05" stroke-linejoin="round" points="168.64,607.14 171.28,611.73 166,611.73"/>
<polygon fill="#fff" stroke-width="1.05" stroke-linejoin="round" points="177.72,612.64 180.36,617.23 175.08,617.23"/>
<polygon fill="#fff" stroke-width="1.05" stroke-linejoin="round" points="186.8,612.44 189.44,617.03 184.16,617.03"/>
<polygon fill="#fff" stroke-width="1.05" stroke-linejoin="round" points="195.88,624.44 198.52,629.03 193.24,629.03"/>
<polygon fill="#fff" stroke-width="1.05" stroke-linejoin="round" points="204.96,618.44 207.6,623.03 202.32,623.03"/>
<polygon fill="#fff" stroke-width="1.05" stroke-linejoin="round" points="214.04,618.14 216.68,622.73 211.4,622.73"/>
<polygon fill="#fff" stroke-width="1.05" stroke-linejoin="round" points="223.12,618.44 225.76,623.03 220.48,623.03"/>
<polygon fill="#fff" stroke-width="1.05" stroke-linejoin="round" points="232.2,620.44 234.84,625.03 229.56,625.03"/>
<polygon fill="#fff" stroke-width="1.05" stroke-linejoin="round" points="241.28,621.34 243.92,625.93 238.64,625.93"/>
<polygon fill="#fff" stroke-width="1.05" stroke-linejoin="round" points="250.36,631.54 253,636.13 247.72,636.13"/>
<polygon fill="#fff" stroke-width="1.05" stroke-linejoin="round" points="259.44,631.54 262.08,636.13 256.8,636.13"/>
<polygon fill="#fff" stroke-width="1.05" stroke-linejoin="round" points="268.52,633.44 271.16,638.03 265.88,638.03"/>
<rect x="157.36" y="556.1" width="4.4" height="4.4" fill="#fff" stroke-width="1.2"/>
<rect x="166.44" y="567" width="4.4" height="4.4" fill="#fff" stroke-width="1.2"/>
<rect x="175.52" y="561.8" width="4.4" height="4.4" fill="#fff" stroke-width="1.2"/>
<rect x="184.6" y="562" width="4.4" height="4.4" fill="#fff" stroke-width="1.2"/>
<rect x="193.68" y="556.8" width="4.4" height="4.4" fill="#fff" stroke-width="1.2"/>
<rect x="202.76" y="562" width="4.4" height="4.4" fill="#fff" stroke-width="1.2"/>
<rect x="211.84" y="557.8" width="4.4" height="4.4" fill="#fff" stroke-width="1.2"/>
<rect x="220.92" y="552" width="4.4" height="4.4" fill="#fff" stroke-width="1.2"/>
<rect x="230" y="556.3" width="4.4" height="4.4" fill="#fff" stroke-width="1.2"/>
<rect x="239.08" y="560.7" width="4.4" height="4.4" fill="#fff" stroke-width="1.2"/>
<rect x="248.16" y="552" width="4.4" height="4.4" fill="#fff" stroke-width="1.2"/>
<rect x="257.24" y="555.8" width="4.4" height="4.4" fill="#fff" stroke-width="1.2"/>
<rect x="266.32" y="557.8" width="4.4" height="4.4" fill="#fff" stroke-width="1.2"/>
<polygon fill="#000" stroke="#000" stroke-width="0.4" stroke-linejoin="round" points="159.56,603.81 162.31,608.6 156.81,608.6"/>
<polygon fill="#000" stroke="#000" stroke-width="0.4" stroke-linejoin="round" points="168.64,601.41 171.39,606.2 165.89,606.2"/>
<polygon fill="#000" stroke="#000" stroke-width="0.4" stroke-linejoin="round" points="177.72,604.31 180.47,609.1 174.97,609.1"/>
<polygon fill="#000" stroke="#000" stroke-width="0.4" stroke-linejoin="round" points="186.8,604.41 189.55,609.2 184.05,609.2"/>
<polygon fill="#000" stroke="#000" stroke-width="0.4" stroke-linejoin="round" points="195.88,610.21 198.63,615 193.13,615"/>
<polygon fill="#000" stroke="#000" stroke-width="0.4" stroke-linejoin="round" points="204.96,616.01 207.71,620.8 202.21,620.8"/>
<polygon fill="#000" stroke="#000" stroke-width="0.4" stroke-linejoin="round" points="214.04,616.41 216.79,621.2 211.29,621.2"/>
<polygon fill="#000" stroke="#000" stroke-width="0.4" stroke-linejoin="round" points="223.12,621.81 225.87,626.6 220.37,626.6"/>
<polygon fill="#000" stroke="#000" stroke-width="0.4" stroke-linejoin="round" points="232.2,633.71 234.95,638.5 229.45,638.5"/>
<polygon fill="#000" stroke="#000" stroke-width="0.4" stroke-linejoin="round" points="241.28,635.61 244.03,640.39 238.53,640.39"/>
<polygon fill="#000" stroke="#000" stroke-width="0.4" stroke-linejoin="round" points="250.36,643.71 253.11,648.5 247.61,648.5"/>
<polygon fill="#000" stroke="#000" stroke-width="0.4" stroke-linejoin="round" points="259.44,647.21 262.19,652 256.69,652"/>
<polygon fill="#000" stroke="#000" stroke-width="0.4" stroke-linejoin="round" points="268.52,646.21 271.27,651 265.77,651"/>
<rect x="93.3" y="589" width="5.4" height="5.4" fill="#000" stroke="none"/>
<rect x="102.38" y="614.3" width="5.4" height="5.4" fill="#000" stroke="none"/>
<rect x="111.46" y="635.8" width="5.4" height="5.4" fill="#000" stroke="none"/>
<rect x="120.54" y="636.3" width="5.4" height="5.4" fill="#000" stroke="none"/>
<rect x="129.62" y="630" width="5.4" height="5.4" fill="#000" stroke="none"/>
<rect x="138.7" y="612.7" width="5.4" height="5.4" fill="#000" stroke="none"/>
<rect x="147.78" y="602.3" width="5.4" height="5.4" fill="#000" stroke="none"/>
<rect x="156.86" y="564.2" width="5.4" height="5.4" fill="#000" stroke="none"/>
<rect x="165.94" y="567.7" width="5.4" height="5.4" fill="#000" stroke="none"/>
<rect x="175.02" y="560.8" width="5.4" height="5.4" fill="#000" stroke="none"/>
<rect x="184.1" y="554.4" width="5.4" height="5.4" fill="#000" stroke="none"/>
<rect x="193.18" y="551.5" width="5.4" height="5.4" fill="#000" stroke="none"/>
<rect x="202.26" y="551.5" width="5.4" height="5.4" fill="#000" stroke="none"/>
<rect x="211.34" y="551.5" width="5.4" height="5.4" fill="#000" stroke="none"/>
<rect x="220.42" y="545.8" width="5.4" height="5.4" fill="#000" stroke="none"/>
<rect x="229.5" y="551.5" width="5.4" height="5.4" fill="#000" stroke="none"/>
<rect x="238.58" y="551.5" width="5.4" height="5.4" fill="#000" stroke="none"/>
<rect x="247.66" y="547.7" width="5.4" height="5.4" fill="#000" stroke="none"/>
<rect x="256.74" y="547.7" width="5.4" height="5.4" fill="#000" stroke="none"/>
<rect x="265.82" y="549.2" width="5.4" height="5.4" fill="#000" stroke="none"/>
<circle cx="105.08" cy="617" r="2.8" fill="#000" stroke="none"/>
<circle cx="123.24" cy="653.5" r="2.8" fill="#000" stroke="none"/>
<circle cx="132.32" cy="659.6" r="2.8" fill="#000" stroke="none"/>
<circle cx="141.4" cy="651.2" r="2.8" fill="#000" stroke="none"/>
<circle cx="150.48" cy="641.3" r="2.8" fill="#000" stroke="none"/>
<circle cx="159.56" cy="595" r="2.8" fill="#000" stroke="none"/>
<circle cx="168.64" cy="597.4" r="2.8" fill="#000" stroke="none"/>
<circle cx="177.72" cy="590.7" r="2.8" fill="#000" stroke="none"/>
<circle cx="186.8" cy="586.2" r="2.8" fill="#000" stroke="none"/>
<circle cx="195.88" cy="584.7" r="2.8" fill="#000" stroke="none"/>
<circle cx="204.96" cy="582.7" r="2.8" fill="#000" stroke="none"/>
<circle cx="214.04" cy="585" r="2.8" fill="#000" stroke="none"/>
<circle cx="223.12" cy="582.7" r="2.8" fill="#000" stroke="none"/>
<circle cx="232.2" cy="585" r="2.8" fill="#000" stroke="none"/>
<circle cx="241.28" cy="586.5" r="2.8" fill="#000" stroke="none"/>
<circle cx="250.36" cy="584.6" r="2.8" fill="#000" stroke="none"/>
<circle cx="259.44" cy="594.6" r="2.8" fill="#000" stroke="none"/>
<circle cx="268.52" cy="594.6" r="2.8" fill="#000" stroke="none"/>
<g fill="none">
<path d="M333.1 535.3 L334.3 669 L517.6 668.5 L517.2 535.3" fill="none" stroke-width="1.4" stroke-linejoin="miter" stroke-linecap="square"/>
</g>
<line x1="329.2" y1="535.3" x2="333.4" y2="535.3" stroke-width="1.25"/>
<text x="325.9" y="538.55" font-size="12.2" text-anchor="end" stroke="#000" stroke-width="0.18">100</text>
<line x1="329.2" y1="602.4" x2="333.4" y2="602.4" stroke-width="1.25"/>
<text x="325.9" y="605.65" font-size="12.2" text-anchor="end" stroke="#000" stroke-width="0.18">50</text>
<line x1="329.2" y1="669.3" x2="333.4" y2="669.3" stroke-width="1.25"/>
<text x="325.9" y="672.55" font-size="12.2" text-anchor="end" stroke="#000" stroke-width="0.18">0</text>
<line x1="330.4" y1="569.4" x2="333.4" y2="569.4" stroke-width="1.12"/>
<line x1="330.4" y1="636.6" x2="333.4" y2="636.6" stroke-width="1.12"/>
<line x1="349.35" y1="668.96" x2="349.35" y2="671.26" stroke-width="1.2"/>
<line x1="364.5" y1="668.92" x2="364.5" y2="671.22" stroke-width="1.2"/>
<line x1="379.65" y1="668.88" x2="379.65" y2="671.18" stroke-width="1.2"/>
<line x1="394.8" y1="668.83" x2="394.8" y2="671.13" stroke-width="1.2"/>
<line x1="409.95" y1="668.79" x2="409.95" y2="671.09" stroke-width="1.2"/>
<line x1="425.1" y1="668.75" x2="425.1" y2="671.05" stroke-width="1.2"/>
<line x1="440.25" y1="668.71" x2="440.25" y2="671.01" stroke-width="1.2"/>
<line x1="455.4" y1="668.67" x2="455.4" y2="670.97" stroke-width="1.2"/>
<line x1="470.55" y1="668.63" x2="470.55" y2="670.93" stroke-width="1.2"/>
<line x1="485.7" y1="668.59" x2="485.7" y2="670.89" stroke-width="1.2"/>
<line x1="500.85" y1="668.55" x2="500.85" y2="670.85" stroke-width="1.2"/>
<line x1="516" y1="668.5" x2="516" y2="670.8" stroke-width="1.2"/>
<text x="340.4" y="685.35" font-size="12.2" text-anchor="middle" stroke="#000" stroke-width="0.18">17</text>
<text x="371" y="685.35" font-size="12.2" text-anchor="middle" stroke="#000" stroke-width="0.18">21</text>
<text x="401.5" y="685.35" font-size="12.2" text-anchor="middle" stroke="#000" stroke-width="0.18">25</text>
<text x="431.5" y="685.35" font-size="12.2" text-anchor="middle" stroke="#000" stroke-width="0.18">29</text>
<text x="461.3" y="685.35" font-size="12.2" text-anchor="middle" stroke="#000" stroke-width="0.18">33</text>
<text x="491.2" y="685.35" font-size="12.2" text-anchor="middle" stroke="#000" stroke-width="0.18">37</text>
<text x="311" y="605" font-size="13.6" text-anchor="middle" transform="rotate(-90 311 605)" stroke="#000" stroke-width="0.18">Survival%</text>
<text x="418.6" y="700.2" font-size="17.2" text-anchor="middle" stroke="#000" stroke-width="0.18">Days</text>
<g fill="none">
<polyline fill="none" stroke-linejoin="round" stroke-width="1.3" stroke-dasharray="1.3,2.2" points="379,543.2 379,550.8 393.8,550.8 393.8,559.2 455,559.2 455,566.3 485.4,566.3 485.4,575.4 517.2,575.4"/>
<polyline fill="none" stroke-linejoin="round" stroke-width="1.3" stroke-dasharray="1.3,2.2" points="485.4,538.5 485.4,579.8 517.2,579.8"/>
<polyline fill="none" stroke-linejoin="round" stroke-width="1.45" points="500.5,535.5 500.5,569.2 517.2,569.2"/>
<polyline fill="none" stroke-linejoin="round" stroke-width="1.5" points="348.3,535.4 348.3,543.2 517.2,543.2"/>
<polyline fill="none" stroke-linejoin="round" stroke-width="1.55" points="333.2,535.3 517.2,535.3"/>
</g>
<rect x="337.45" y="531.85" width="5.5" height="5.5" fill="#000" stroke="none"/>
<rect x="352.65" y="531.85" width="5.5" height="5.5" fill="#000" stroke="none"/>
<rect x="367.85" y="531.85" width="5.5" height="5.5" fill="#000" stroke="none"/>
<rect x="383.05" y="531.85" width="5.5" height="5.5" fill="#000" stroke="none"/>
<rect x="398.25" y="531.85" width="5.5" height="5.5" fill="#000" stroke="none"/>
<rect x="413.45" y="531.85" width="5.5" height="5.5" fill="#000" stroke="none"/>
<rect x="428.65" y="531.85" width="5.5" height="5.5" fill="#000" stroke="none"/>
<rect x="443.85" y="531.85" width="5.5" height="5.5" fill="#000" stroke="none"/>
<rect x="459.05" y="531.85" width="5.5" height="5.5" fill="#000" stroke="none"/>
<rect x="474.25" y="531.85" width="5.5" height="5.5" fill="#000" stroke="none"/>
<rect x="489.45" y="531.85" width="5.5" height="5.5" fill="#000" stroke="none"/>
<rect x="504.65" y="531.85" width="5.5" height="5.5" fill="#000" stroke="none"/>
<circle cx="355.4" cy="543.2" r="2.35" fill="#fff" stroke-width="1.1"/>
<circle cx="355.4" cy="542.8" r="2.75" fill="#000" stroke="none"/>
<circle cx="370.6" cy="542.8" r="2.75" fill="#000" stroke="none"/>
<circle cx="385.8" cy="542.8" r="2.75" fill="#000" stroke="none"/>
<circle cx="401" cy="542.8" r="2.75" fill="#000" stroke="none"/>
<circle cx="416.2" cy="542.8" r="2.75" fill="#000" stroke="none"/>
<circle cx="431.4" cy="542.8" r="2.75" fill="#000" stroke="none"/>
<circle cx="446.6" cy="542.8" r="2.75" fill="#000" stroke="none"/>
<circle cx="461.8" cy="542.8" r="2.75" fill="#000" stroke="none"/>
<circle cx="477" cy="542.8" r="2.75" fill="#000" stroke="none"/>
<circle cx="492.2" cy="542.8" r="2.75" fill="#000" stroke="none"/>
<circle cx="507.4" cy="542.8" r="2.75" fill="#000" stroke="none"/>
<circle cx="385.8" cy="550.8" r="2.35" fill="#fff" stroke-width="1.1"/>
<circle cx="401" cy="559.2" r="2.35" fill="#fff" stroke-width="1.1"/>
<circle cx="416.2" cy="559.2" r="2.35" fill="#fff" stroke-width="1.1"/>
<circle cx="431.4" cy="559.2" r="2.35" fill="#fff" stroke-width="1.1"/>
<circle cx="446.6" cy="559.2" r="2.35" fill="#fff" stroke-width="1.1"/>
<circle cx="461.8" cy="566.3" r="2.35" fill="#fff" stroke-width="1.1"/>
<circle cx="477" cy="566.3" r="2.35" fill="#fff" stroke-width="1.1"/>
<circle cx="492.2" cy="575" r="2.35" fill="#fff" stroke-width="1.1"/>
<circle cx="507.4" cy="575" r="2.35" fill="#fff" stroke-width="1.1"/>
<polygon fill="#fff" stroke-width="1.05" stroke-linejoin="round" points="492.2,577.54 494.84,582.13 489.56,582.13"/>
<polygon fill="#fff" stroke-width="1.05" stroke-linejoin="round" points="507.4,577.54 510.04,582.13 504.76,582.13"/>
<polygon fill="#000" stroke="#000" stroke-width="0.4" stroke-linejoin="round" points="507.4,564.81 510.15,569.6 504.65,569.6"/>
</svg>
</body></html>
